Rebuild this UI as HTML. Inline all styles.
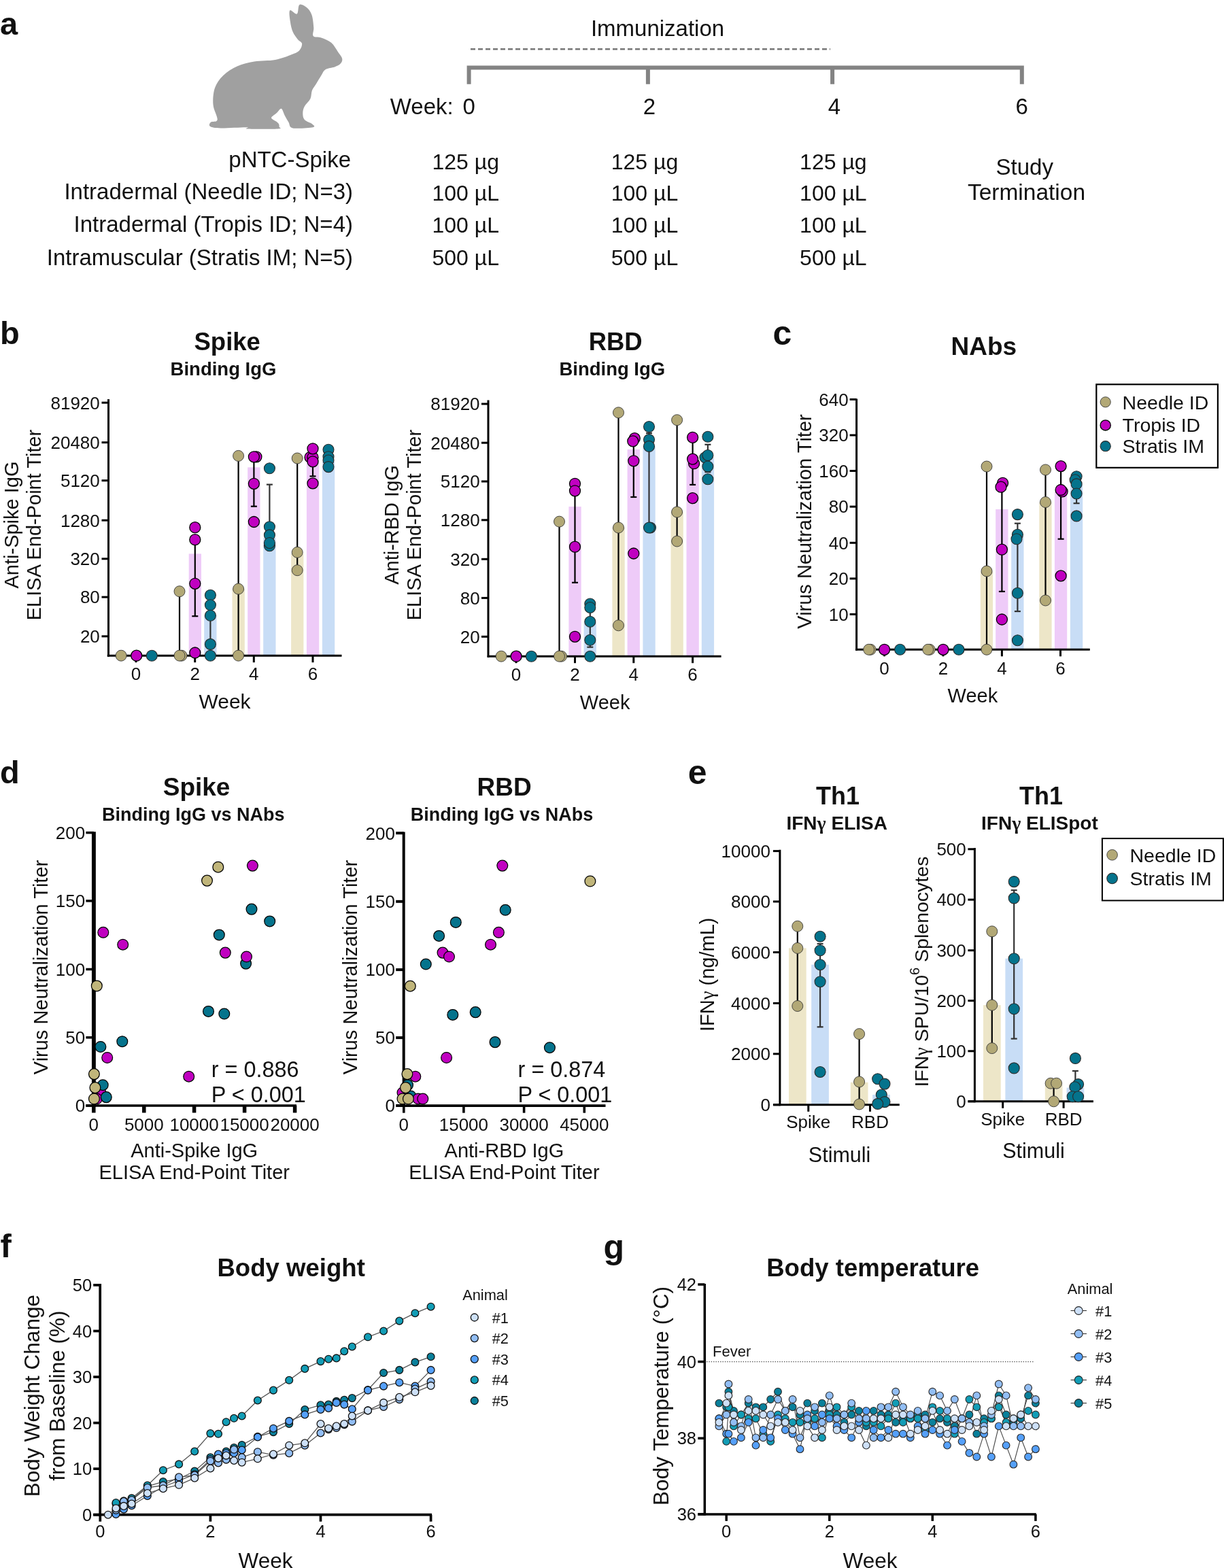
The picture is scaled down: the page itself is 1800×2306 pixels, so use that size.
<!DOCTYPE html><html><head><meta charset="utf-8"><title>Figure</title><style>html,body{margin:0;padding:0;background:#fff}svg{display:block}</style></head><body><svg width="1800" height="2306" viewBox="0 0 1800 2306" font-family='"Liberation Sans", Arial, sans-serif'>
<rect width="1800" height="2306" fill="#fff"/>
<text x="0.0" y="50.5" font-size="47" text-anchor="start" font-weight="bold" fill="#111" >a</text>
<path d="M426.2,15.4 C427.8,13.5 434.3,21.9 436.7,20.5 C439.1,19.1 438.0,8.6 440.4,7.0 C442.8,5.4 448.0,8.5 451.0,11.0 C454.0,13.5 456.8,17.1 458.5,22.0 C460.2,26.9 460.9,35.4 461.3,40.6 C461.7,45.8 458.9,50.5 460.7,53.0 C462.5,55.5 468.0,53.8 472.4,55.4 C476.8,57.0 483.1,59.3 487.2,62.8 C491.3,66.3 494.4,72.5 497.1,76.4 C499.8,80.3 502.6,83.3 503.2,86.2 C503.8,89.1 502.6,91.5 500.8,93.6 C499.0,95.6 495.8,97.1 492.1,98.5 C488.4,99.9 481.9,100.1 478.6,102.2 C475.3,104.3 474.7,107.4 472.4,110.9 C470.1,114.4 467.2,119.5 465.0,123.2 C462.8,126.9 460.3,129.3 458.9,133.0 C457.5,136.7 458.2,141.4 456.4,145.3 C454.5,149.2 449.6,152.9 447.8,156.4 C446.0,159.9 445.3,163.0 445.3,166.3 C445.3,169.6 445.5,173.4 447.8,176.1 C450.1,178.8 456.8,180.5 458.9,182.3 C460.9,184.2 464.8,186.2 460.1,187.2 C455.4,188.2 436.6,189.6 430.6,188.4 C424.7,187.2 426.4,182.9 424.4,179.8 C422.4,176.7 420.6,173.3 418.8,170.0 C417.0,166.7 415.7,160.5 413.7,159.8 C411.7,159.1 409.4,163.9 407.0,166.0 C404.6,168.1 400.5,170.7 399.4,172.2 C398.3,173.7 399.5,174.1 400.6,175.2 C401.7,176.3 404.5,177.5 406.0,178.6 C407.5,179.7 409.0,180.7 409.8,182.0 C410.6,183.3 410.8,185.3 410.6,186.5 C410.4,187.7 416.5,188.9 408.8,189.4 C401.1,189.9 372.2,190.0 364.5,189.6 C356.8,189.2 369.4,187.4 362.8,187.2 C356.2,187.0 333.5,188.6 324.6,188.4 C315.7,188.2 311.6,187.4 309.2,186.0 C306.8,184.6 308.1,181.5 309.9,179.8 C311.6,178.2 319.1,180.4 319.7,176.1 C320.3,171.8 314.1,161.8 313.5,154.0 C312.9,146.2 313.5,136.5 316.0,129.3 C318.5,122.1 322.8,116.2 328.3,110.9 C333.9,105.6 341.7,100.7 349.3,97.3 C356.9,93.9 364.7,92.0 373.9,90.5 C383.1,89.0 395.5,89.8 404.7,88.1 C413.9,86.4 423.4,82.5 429.3,80.1 C435.2,77.7 437.9,76.6 440.4,73.9 C442.9,71.2 444.5,66.7 444.1,64.0 C443.7,61.3 440.1,60.8 437.9,57.9 C435.6,55.0 432.4,51.1 430.6,46.8 C428.8,42.5 427.6,37.2 426.9,32.0 C426.2,26.8 424.6,17.3 426.2,15.4 Z" fill="#a0a0a0"/>
<text x="967.0" y="53.3" font-size="33" text-anchor="middle" fill="#111" >Immunization</text>
<line x1="692.0" y1="72.3" x2="1221.0" y2="72.3" stroke="#777" stroke-width="2.4" stroke-dasharray="7,4"/>
<path d="M689.6,123.7 V99.4 H1502.8 V123.7 M952.9,99.4 V123.7 M1224.1,99.4 V123.7" fill="none" stroke="#838383" stroke-width="6"/>
<text x="573.8" y="168.2" font-size="33" text-anchor="start" fill="#111" >Week:</text>
<text x="689.6" y="168.2" font-size="33" text-anchor="middle" fill="#111" >0</text>
<text x="955.0" y="168.2" font-size="33" text-anchor="middle" fill="#111" >2</text>
<text x="1226.9" y="168.2" font-size="33" text-anchor="middle" fill="#111" >4</text>
<text x="1502.8" y="168.2" font-size="33" text-anchor="middle" fill="#111" >6</text>
<text x="516.0" y="246.4" font-size="33" text-anchor="end" fill="#111" >pNTC-Spike</text>
<text x="519.0" y="292.6" font-size="33" text-anchor="end" fill="#111" >Intradermal (Needle ID; N=3)</text>
<text x="519.0" y="341.4" font-size="33" text-anchor="end" fill="#111" >Intradermal (Tropis ID; N=4)</text>
<text x="519.0" y="389.8" font-size="33" text-anchor="end" fill="#111" >Intramuscular (Stratis IM; N=5)</text>
<text x="635.5" y="249.0" font-size="32" text-anchor="start" fill="#111" >125 µg</text>
<text x="635.5" y="295.4" font-size="32" text-anchor="start" fill="#111" >100 µL</text>
<text x="635.5" y="341.8" font-size="32" text-anchor="start" fill="#111" >100 µL</text>
<text x="635.5" y="389.8" font-size="32" text-anchor="start" fill="#111" >500 µL</text>
<text x="898.7" y="249.0" font-size="32" text-anchor="start" fill="#111" >125 µg</text>
<text x="898.7" y="295.4" font-size="32" text-anchor="start" fill="#111" >100 µL</text>
<text x="898.7" y="341.8" font-size="32" text-anchor="start" fill="#111" >100 µL</text>
<text x="898.7" y="389.8" font-size="32" text-anchor="start" fill="#111" >500 µL</text>
<text x="1176.1" y="249.0" font-size="32" text-anchor="start" fill="#111" >125 µg</text>
<text x="1176.1" y="295.4" font-size="32" text-anchor="start" fill="#111" >100 µL</text>
<text x="1176.1" y="341.8" font-size="32" text-anchor="start" fill="#111" >100 µL</text>
<text x="1176.1" y="389.8" font-size="32" text-anchor="start" fill="#111" >500 µL</text>
<text x="1506.7" y="256.8" font-size="33" text-anchor="middle" fill="#111" >Study</text>
<text x="1509.5" y="293.5" font-size="33.5" text-anchor="middle" fill="#111" >Termination</text>
<text x="0.0" y="506.0" font-size="47" text-anchor="start" font-weight="bold" fill="#111" >b</text>
<text x="334.2" y="514.8" font-size="36.5" text-anchor="middle" font-weight="bold" fill="#111" >Spike</text>
<text x="328.5" y="552.0" font-size="27.5" text-anchor="middle" font-weight="bold" fill="#111" >Binding IgG</text>
<text transform="translate(27.4,772.0) rotate(-90)" font-size="29" text-anchor="middle" fill="#111">Anti-Spike IgG</text>
<text transform="translate(60.2,772.0) rotate(-90)" font-size="29" text-anchor="middle" fill="#111">ELISA End-Point Titer</text>
<line x1="264.0" y1="869.7" x2="264.0" y2="963.9" stroke="#000" stroke-width="2.2" />
<line x1="259.5" y1="869.7" x2="268.5" y2="869.7" stroke="#000" stroke-width="2.2" />
<line x1="259.5" y1="963.9" x2="268.5" y2="963.9" stroke="#000" stroke-width="2.2" />
<rect x="277.7" y="814.4" width="18.3" height="149.8" fill="#eecbf8" />
<line x1="286.8" y1="786.0" x2="286.8" y2="906.2" stroke="#000" stroke-width="2.2" />
<line x1="282.3" y1="906.2" x2="291.3" y2="906.2" stroke="#000" stroke-width="2.2" />
<rect x="300.2" y="905.2" width="18.3" height="59.0" fill="#c8ddf6" />
<line x1="309.4" y1="890.0" x2="309.4" y2="947.4" stroke="#333" stroke-width="2.2" />
<rect x="341.5" y="866.1" width="18.3" height="98.1" fill="#ede6c8" />
<line x1="350.6" y1="670.4" x2="350.6" y2="963.9" stroke="#000" stroke-width="2.2" />
<line x1="346.1" y1="670.4" x2="355.1" y2="670.4" stroke="#000" stroke-width="2.2" />
<line x1="346.1" y1="963.9" x2="355.1" y2="963.9" stroke="#000" stroke-width="2.2" />
<rect x="364.2" y="687.3" width="18.3" height="276.9" fill="#eecbf8" />
<line x1="373.4" y1="672.0" x2="373.4" y2="744.7" stroke="#000" stroke-width="2.2" />
<line x1="368.9" y1="672.0" x2="377.9" y2="672.0" stroke="#000" stroke-width="2.2" />
<line x1="368.9" y1="744.7" x2="377.9" y2="744.7" stroke="#000" stroke-width="2.2" />
<rect x="387.2" y="791.0" width="18.3" height="173.2" fill="#c8ddf6" />
<line x1="396.4" y1="712.6" x2="396.4" y2="791.0" stroke="#333" stroke-width="2.2" />
<line x1="391.9" y1="712.6" x2="400.9" y2="712.6" stroke="#333" stroke-width="2.2" />
<rect x="428.1" y="814.4" width="18.3" height="149.8" fill="#ede6c8" />
<line x1="437.2" y1="674.0" x2="437.2" y2="838.7" stroke="#000" stroke-width="2.2" />
<line x1="432.7" y1="674.0" x2="441.7" y2="674.0" stroke="#000" stroke-width="2.2" />
<line x1="432.7" y1="838.7" x2="441.7" y2="838.7" stroke="#000" stroke-width="2.2" />
<rect x="450.9" y="677.0" width="18.3" height="287.2" fill="#eecbf8" />
<line x1="460.0" y1="660.0" x2="460.0" y2="700.4" stroke="#000" stroke-width="2.2" />
<line x1="455.5" y1="700.4" x2="464.5" y2="700.4" stroke="#000" stroke-width="2.2" />
<rect x="473.9" y="679.0" width="18.3" height="285.2" fill="#c8ddf6" />
<line x1="159.5" y1="587.0" x2="159.5" y2="965.7" stroke="#000" stroke-width="3" />
<line x1="149.5" y1="592.2" x2="159.5" y2="592.2" stroke="#000" stroke-width="3" />
<text x="146.8" y="601.5" font-size="26" text-anchor="end" fill="#111" >81920</text>
<line x1="149.5" y1="650.7" x2="159.5" y2="650.7" stroke="#000" stroke-width="3" />
<text x="146.8" y="660.0" font-size="26" text-anchor="end" fill="#111" >20480</text>
<line x1="149.5" y1="706.7" x2="159.5" y2="706.7" stroke="#000" stroke-width="3" />
<text x="146.8" y="716.0" font-size="26" text-anchor="end" fill="#111" >5120</text>
<line x1="149.5" y1="765.2" x2="159.5" y2="765.2" stroke="#000" stroke-width="3" />
<text x="146.8" y="774.5" font-size="26" text-anchor="end" fill="#111" >1280</text>
<line x1="149.5" y1="821.8" x2="159.5" y2="821.8" stroke="#000" stroke-width="3" />
<text x="146.8" y="831.1" font-size="26" text-anchor="end" fill="#111" >320</text>
<line x1="149.5" y1="878.1" x2="159.5" y2="878.1" stroke="#000" stroke-width="3" />
<text x="146.8" y="887.4" font-size="26" text-anchor="end" fill="#111" >80</text>
<line x1="149.5" y1="935.8" x2="159.5" y2="935.8" stroke="#000" stroke-width="3" />
<text x="146.8" y="945.1" font-size="26" text-anchor="end" fill="#111" >20</text>
<line x1="157.7" y1="964.2" x2="502.5" y2="964.2" stroke="#000" stroke-width="3" />
<line x1="200.0" y1="964.2" x2="200.0" y2="974.2" stroke="#000" stroke-width="3" />
<text x="200.0" y="1000.2" font-size="26" text-anchor="middle" fill="#111" >0</text>
<line x1="286.7" y1="964.2" x2="286.7" y2="974.2" stroke="#000" stroke-width="3" />
<text x="286.7" y="1000.2" font-size="26" text-anchor="middle" fill="#111" >2</text>
<line x1="373.3" y1="964.2" x2="373.3" y2="974.2" stroke="#000" stroke-width="3" />
<text x="373.3" y="1000.2" font-size="26" text-anchor="middle" fill="#111" >4</text>
<line x1="460.0" y1="964.2" x2="460.0" y2="974.2" stroke="#000" stroke-width="3" />
<text x="460.0" y="1000.2" font-size="26" text-anchor="middle" fill="#111" >6</text>
<circle cx="178.1" cy="964.2" r="8.0" fill="#b2a876" stroke="#3a3a3a" stroke-width="0.9"/>
<circle cx="200.7" cy="964.2" r="8.0" fill="#c000c0" stroke="#000" stroke-width="1.3"/>
<circle cx="223.3" cy="964.2" r="8.0" fill="#05738c" stroke="#2a2a2a" stroke-width="1.1"/>
<circle cx="264.0" cy="869.7" r="8.0" fill="#b2a876" stroke="#3a3a3a" stroke-width="0.9"/>
<circle cx="267.0" cy="964.2" r="8.0" fill="#b2a876" stroke="#3a3a3a" stroke-width="0.9"/>
<circle cx="264.0" cy="964.2" r="8.0" fill="#b2a876" stroke="#3a3a3a" stroke-width="0.9"/>
<circle cx="286.8" cy="775.7" r="8.0" fill="#c000c0" stroke="#000" stroke-width="1.3"/>
<circle cx="286.8" cy="793.7" r="8.0" fill="#c000c0" stroke="#000" stroke-width="1.3"/>
<circle cx="286.8" cy="858.3" r="8.0" fill="#c000c0" stroke="#000" stroke-width="1.3"/>
<circle cx="286.8" cy="960.0" r="8.0" fill="#c000c0" stroke="#000" stroke-width="1.3"/>
<circle cx="309.4" cy="875.2" r="8.0" fill="#05738c" stroke="#2a2a2a" stroke-width="1.1"/>
<circle cx="309.4" cy="889.8" r="8.0" fill="#05738c" stroke="#2a2a2a" stroke-width="1.1"/>
<circle cx="309.4" cy="905.2" r="8.0" fill="#05738c" stroke="#2a2a2a" stroke-width="1.1"/>
<circle cx="309.4" cy="947.4" r="8.0" fill="#05738c" stroke="#2a2a2a" stroke-width="1.1"/>
<circle cx="309.4" cy="964.2" r="8.0" fill="#05738c" stroke="#2a2a2a" stroke-width="1.1"/>
<circle cx="350.6" cy="670.4" r="8.0" fill="#b2a876" stroke="#3a3a3a" stroke-width="0.9"/>
<circle cx="350.6" cy="866.1" r="8.0" fill="#b2a876" stroke="#3a3a3a" stroke-width="0.9"/>
<circle cx="350.6" cy="964.2" r="8.0" fill="#b2a876" stroke="#3a3a3a" stroke-width="0.9"/>
<circle cx="376.9" cy="671.8" r="8.0" fill="#c000c0" stroke="#000" stroke-width="1.3"/>
<circle cx="373.4" cy="671.8" r="8.0" fill="#c000c0" stroke="#000" stroke-width="1.3"/>
<circle cx="373.4" cy="711.3" r="8.0" fill="#c000c0" stroke="#000" stroke-width="1.3"/>
<circle cx="373.4" cy="767.5" r="8.0" fill="#c000c0" stroke="#000" stroke-width="1.3"/>
<circle cx="396.4" cy="688.7" r="8.0" fill="#05738c" stroke="#2a2a2a" stroke-width="1.1"/>
<circle cx="396.4" cy="774.7" r="8.0" fill="#05738c" stroke="#2a2a2a" stroke-width="1.1"/>
<circle cx="396.4" cy="786.9" r="8.0" fill="#05738c" stroke="#2a2a2a" stroke-width="1.1"/>
<circle cx="396.4" cy="802.8" r="8.0" fill="#05738c" stroke="#2a2a2a" stroke-width="1.1"/>
<circle cx="396.4" cy="798.5" r="8.0" fill="#05738c" stroke="#2a2a2a" stroke-width="1.1"/>
<circle cx="437.2" cy="674.0" r="8.0" fill="#b2a876" stroke="#3a3a3a" stroke-width="0.9"/>
<circle cx="437.2" cy="812.3" r="8.0" fill="#b2a876" stroke="#3a3a3a" stroke-width="0.9"/>
<circle cx="437.2" cy="838.7" r="8.0" fill="#b2a876" stroke="#3a3a3a" stroke-width="0.9"/>
<circle cx="456.0" cy="672.5" r="8.0" fill="#c000c0" stroke="#000" stroke-width="1.3"/>
<circle cx="460.0" cy="672.5" r="8.0" fill="#c000c0" stroke="#000" stroke-width="1.3"/>
<circle cx="460.0" cy="659.8" r="8.0" fill="#c000c0" stroke="#000" stroke-width="1.3"/>
<circle cx="460.0" cy="678.8" r="8.0" fill="#c000c0" stroke="#000" stroke-width="1.3"/>
<circle cx="460.0" cy="710.9" r="8.0" fill="#c000c0" stroke="#000" stroke-width="1.3"/>
<circle cx="483.0" cy="661.3" r="8.0" fill="#05738c" stroke="#2a2a2a" stroke-width="1.1"/>
<circle cx="483.0" cy="671.8" r="8.0" fill="#05738c" stroke="#2a2a2a" stroke-width="1.1"/>
<circle cx="483.0" cy="677.0" r="8.0" fill="#05738c" stroke="#2a2a2a" stroke-width="1.1"/>
<circle cx="483.0" cy="686.6" r="8.0" fill="#05738c" stroke="#2a2a2a" stroke-width="1.1"/>
<text x="330.5" y="1042.3" font-size="30" text-anchor="middle" fill="#111" >Week</text>
<text x="905.2" y="514.8" font-size="36.5" text-anchor="middle" font-weight="bold" fill="#111" >RBD</text>
<text x="900.3" y="552.0" font-size="27.5" text-anchor="middle" font-weight="bold" fill="#111" >Binding IgG</text>
<text transform="translate(586.0,772.0) rotate(-90)" font-size="29" text-anchor="middle" fill="#111">Anti-RBD IgG</text>
<text transform="translate(618.8,772.0) rotate(-90)" font-size="29" text-anchor="middle" fill="#111">ELISA End-Point Titer</text>
<line x1="822.5" y1="767.1" x2="822.5" y2="965.2" stroke="#000" stroke-width="2.2" />
<line x1="818.0" y1="767.1" x2="827.0" y2="767.1" stroke="#000" stroke-width="2.2" />
<line x1="818.0" y1="965.2" x2="827.0" y2="965.2" stroke="#000" stroke-width="2.2" />
<rect x="836.4" y="745.1" width="18.3" height="220.1" fill="#eecbf8" />
<line x1="845.5" y1="716.0" x2="845.5" y2="856.8" stroke="#000" stroke-width="2.2" />
<line x1="841.0" y1="856.8" x2="850.0" y2="856.8" stroke="#000" stroke-width="2.2" />
<rect x="858.6" y="915.0" width="18.3" height="50.2" fill="#c8ddf6" />
<line x1="867.8" y1="890.0" x2="867.8" y2="951.7" stroke="#333" stroke-width="2.2" />
<line x1="863.3" y1="951.7" x2="872.3" y2="951.7" stroke="#333" stroke-width="2.2" />
<rect x="900.4" y="776.0" width="18.3" height="189.2" fill="#ede6c8" />
<line x1="909.5" y1="606.8" x2="909.5" y2="919.8" stroke="#000" stroke-width="2.2" />
<line x1="905.0" y1="606.8" x2="914.0" y2="606.8" stroke="#000" stroke-width="2.2" />
<line x1="905.0" y1="919.8" x2="914.0" y2="919.8" stroke="#000" stroke-width="2.2" />
<rect x="922.6" y="661.0" width="18.3" height="304.2" fill="#eecbf8" />
<line x1="931.8" y1="645.0" x2="931.8" y2="731.0" stroke="#000" stroke-width="2.2" />
<line x1="927.3" y1="731.0" x2="936.3" y2="731.0" stroke="#000" stroke-width="2.2" />
<rect x="945.4" y="656.4" width="18.3" height="308.8" fill="#c8ddf6" />
<line x1="954.5" y1="637.0" x2="954.5" y2="776.0" stroke="#333" stroke-width="2.2" />
<line x1="950.0" y1="637.0" x2="959.0" y2="637.0" stroke="#333" stroke-width="2.2" />
<rect x="986.5" y="753.0" width="18.3" height="212.2" fill="#ede6c8" />
<line x1="995.6" y1="617.7" x2="995.6" y2="796.0" stroke="#000" stroke-width="2.2" />
<line x1="991.1" y1="617.7" x2="1000.1" y2="617.7" stroke="#000" stroke-width="2.2" />
<line x1="991.1" y1="796.0" x2="1000.1" y2="796.0" stroke="#000" stroke-width="2.2" />
<rect x="1009.5" y="678.4" width="18.3" height="286.8" fill="#eecbf8" />
<line x1="1018.6" y1="650.0" x2="1018.6" y2="712.9" stroke="#000" stroke-width="2.2" />
<line x1="1014.1" y1="712.9" x2="1023.1" y2="712.9" stroke="#000" stroke-width="2.2" />
<rect x="1031.8" y="673.5" width="18.3" height="291.7" fill="#c8ddf6" />
<line x1="1040.9" y1="653.8" x2="1040.9" y2="694.2" stroke="#333" stroke-width="2.2" />
<line x1="1036.4" y1="653.8" x2="1045.4" y2="653.8" stroke="#333" stroke-width="2.2" />
<line x1="1036.4" y1="694.2" x2="1045.4" y2="694.2" stroke="#333" stroke-width="2.2" />
<line x1="718.0" y1="588.5" x2="718.0" y2="966.7" stroke="#000" stroke-width="3" />
<line x1="708.0" y1="594.0" x2="718.0" y2="594.0" stroke="#000" stroke-width="3" />
<text x="705.6" y="603.3" font-size="26" text-anchor="end" fill="#111" >81920</text>
<line x1="708.0" y1="651.2" x2="718.0" y2="651.2" stroke="#000" stroke-width="3" />
<text x="705.6" y="660.5" font-size="26" text-anchor="end" fill="#111" >20480</text>
<line x1="708.0" y1="708.0" x2="718.0" y2="708.0" stroke="#000" stroke-width="3" />
<text x="705.6" y="717.3" font-size="26" text-anchor="end" fill="#111" >5120</text>
<line x1="708.0" y1="764.8" x2="718.0" y2="764.8" stroke="#000" stroke-width="3" />
<text x="705.6" y="774.1" font-size="26" text-anchor="end" fill="#111" >1280</text>
<line x1="708.0" y1="822.3" x2="718.0" y2="822.3" stroke="#000" stroke-width="3" />
<text x="705.6" y="831.6" font-size="26" text-anchor="end" fill="#111" >320</text>
<line x1="708.0" y1="879.4" x2="718.0" y2="879.4" stroke="#000" stroke-width="3" />
<text x="705.6" y="888.7" font-size="26" text-anchor="end" fill="#111" >80</text>
<line x1="708.0" y1="936.3" x2="718.0" y2="936.3" stroke="#000" stroke-width="3" />
<text x="705.6" y="945.6" font-size="26" text-anchor="end" fill="#111" >20</text>
<line x1="716.7" y1="965.2" x2="1060.6" y2="965.2" stroke="#000" stroke-width="3" />
<line x1="759.0" y1="965.2" x2="759.0" y2="975.2" stroke="#000" stroke-width="3" />
<text x="759.0" y="1001.3" font-size="26" text-anchor="middle" fill="#111" >0</text>
<line x1="845.5" y1="965.2" x2="845.5" y2="975.2" stroke="#000" stroke-width="3" />
<text x="845.5" y="1001.3" font-size="26" text-anchor="middle" fill="#111" >2</text>
<line x1="931.8" y1="965.2" x2="931.8" y2="975.2" stroke="#000" stroke-width="3" />
<text x="931.8" y="1001.3" font-size="26" text-anchor="middle" fill="#111" >4</text>
<line x1="1018.6" y1="965.2" x2="1018.6" y2="975.2" stroke="#000" stroke-width="3" />
<text x="1018.6" y="1001.3" font-size="26" text-anchor="middle" fill="#111" >6</text>
<circle cx="737.1" cy="965.2" r="8.0" fill="#b2a876" stroke="#3a3a3a" stroke-width="0.9"/>
<circle cx="759.1" cy="965.2" r="8.0" fill="#c000c0" stroke="#000" stroke-width="1.3"/>
<circle cx="781.4" cy="965.2" r="8.0" fill="#05738c" stroke="#2a2a2a" stroke-width="1.1"/>
<circle cx="822.5" cy="767.1" r="8.0" fill="#b2a876" stroke="#3a3a3a" stroke-width="0.9"/>
<circle cx="825.5" cy="965.2" r="8.0" fill="#b2a876" stroke="#3a3a3a" stroke-width="0.9"/>
<circle cx="822.5" cy="965.2" r="8.0" fill="#b2a876" stroke="#3a3a3a" stroke-width="0.9"/>
<circle cx="845.5" cy="711.3" r="8.0" fill="#c000c0" stroke="#000" stroke-width="1.3"/>
<circle cx="845.5" cy="721.8" r="8.0" fill="#c000c0" stroke="#000" stroke-width="1.3"/>
<circle cx="845.5" cy="804.2" r="8.0" fill="#c000c0" stroke="#000" stroke-width="1.3"/>
<circle cx="845.5" cy="936.3" r="8.0" fill="#c000c0" stroke="#000" stroke-width="1.3"/>
<circle cx="867.8" cy="888.0" r="8.0" fill="#05738c" stroke="#2a2a2a" stroke-width="1.1"/>
<circle cx="867.8" cy="893.5" r="8.0" fill="#05738c" stroke="#2a2a2a" stroke-width="1.1"/>
<circle cx="867.8" cy="914.2" r="8.0" fill="#05738c" stroke="#2a2a2a" stroke-width="1.1"/>
<circle cx="867.8" cy="941.2" r="8.0" fill="#05738c" stroke="#2a2a2a" stroke-width="1.1"/>
<circle cx="867.8" cy="965.2" r="8.0" fill="#05738c" stroke="#2a2a2a" stroke-width="1.1"/>
<circle cx="909.5" cy="606.8" r="8.0" fill="#b2a876" stroke="#3a3a3a" stroke-width="0.9"/>
<circle cx="909.5" cy="776.0" r="8.0" fill="#b2a876" stroke="#3a3a3a" stroke-width="0.9"/>
<circle cx="909.5" cy="919.8" r="8.0" fill="#b2a876" stroke="#3a3a3a" stroke-width="0.9"/>
<circle cx="933.3" cy="644.6" r="8.0" fill="#c000c0" stroke="#000" stroke-width="1.3"/>
<circle cx="930.8" cy="648.9" r="8.0" fill="#c000c0" stroke="#000" stroke-width="1.3"/>
<circle cx="931.8" cy="677.8" r="8.0" fill="#c000c0" stroke="#000" stroke-width="1.3"/>
<circle cx="931.8" cy="814.0" r="8.0" fill="#c000c0" stroke="#000" stroke-width="1.3"/>
<circle cx="954.5" cy="627.5" r="8.0" fill="#05738c" stroke="#2a2a2a" stroke-width="1.1"/>
<circle cx="954.5" cy="646.6" r="8.0" fill="#05738c" stroke="#2a2a2a" stroke-width="1.1"/>
<circle cx="954.5" cy="656.4" r="8.0" fill="#05738c" stroke="#2a2a2a" stroke-width="1.1"/>
<circle cx="956.5" cy="776.0" r="8.0" fill="#05738c" stroke="#2a2a2a" stroke-width="1.1"/>
<circle cx="954.5" cy="776.0" r="8.0" fill="#05738c" stroke="#2a2a2a" stroke-width="1.1"/>
<circle cx="995.6" cy="617.7" r="8.0" fill="#b2a876" stroke="#3a3a3a" stroke-width="0.9"/>
<circle cx="995.6" cy="753.0" r="8.0" fill="#b2a876" stroke="#3a3a3a" stroke-width="0.9"/>
<circle cx="995.6" cy="796.0" r="8.0" fill="#b2a876" stroke="#3a3a3a" stroke-width="0.9"/>
<circle cx="1018.6" cy="643.3" r="8.0" fill="#c000c0" stroke="#000" stroke-width="1.3"/>
<circle cx="1020.6" cy="681.7" r="8.0" fill="#c000c0" stroke="#000" stroke-width="1.3"/>
<circle cx="1018.6" cy="675.1" r="8.0" fill="#c000c0" stroke="#000" stroke-width="1.3"/>
<circle cx="1018.6" cy="732.6" r="8.0" fill="#c000c0" stroke="#000" stroke-width="1.3"/>
<circle cx="1040.9" cy="642.3" r="8.0" fill="#05738c" stroke="#2a2a2a" stroke-width="1.1"/>
<circle cx="1036.9" cy="672.8" r="8.0" fill="#05738c" stroke="#2a2a2a" stroke-width="1.1"/>
<circle cx="1040.9" cy="669.5" r="8.0" fill="#05738c" stroke="#2a2a2a" stroke-width="1.1"/>
<circle cx="1040.9" cy="686.0" r="8.0" fill="#05738c" stroke="#2a2a2a" stroke-width="1.1"/>
<circle cx="1040.9" cy="704.7" r="8.0" fill="#05738c" stroke="#2a2a2a" stroke-width="1.1"/>
<text x="889.6" y="1043.3" font-size="29" text-anchor="middle" fill="#111" >Week</text>
<text x="1136.4" y="507.3" font-size="50" text-anchor="start" font-weight="bold" fill="#111" >c</text>
<text x="1446.8" y="521.7" font-size="37" text-anchor="middle" font-weight="bold" fill="#111" >NAbs</text>
<text transform="translate(1192.8,767.0) rotate(-90)" font-size="29" text-anchor="middle" fill="#111">Virus Neutralization Titer</text>
<rect x="1441.8" y="841.0" width="18.3" height="114.3" fill="#ede6c8" />
<line x1="1451.0" y1="686.0" x2="1451.0" y2="955.3" stroke="#000" stroke-width="2.2" />
<line x1="1446.5" y1="686.0" x2="1455.5" y2="686.0" stroke="#000" stroke-width="2.2" />
<line x1="1446.5" y1="955.3" x2="1455.5" y2="955.3" stroke="#000" stroke-width="2.2" />
<rect x="1464.2" y="749.0" width="18.3" height="206.3" fill="#eecbf8" />
<line x1="1473.4" y1="716.0" x2="1473.4" y2="869.9" stroke="#000" stroke-width="2.2" />
<line x1="1468.9" y1="869.9" x2="1477.9" y2="869.9" stroke="#000" stroke-width="2.2" />
<rect x="1487.2" y="788.4" width="18.3" height="166.9" fill="#c8ddf6" />
<line x1="1496.4" y1="769.7" x2="1496.4" y2="899.1" stroke="#333" stroke-width="2.2" />
<line x1="1491.9" y1="769.7" x2="1500.9" y2="769.7" stroke="#333" stroke-width="2.2" />
<line x1="1491.9" y1="899.1" x2="1500.9" y2="899.1" stroke="#333" stroke-width="2.2" />
<rect x="1528.3" y="738.5" width="18.3" height="216.8" fill="#ede6c8" />
<line x1="1537.5" y1="690.9" x2="1537.5" y2="883.0" stroke="#000" stroke-width="2.2" />
<line x1="1533.0" y1="690.9" x2="1542.0" y2="690.9" stroke="#000" stroke-width="2.2" />
<line x1="1533.0" y1="883.0" x2="1542.0" y2="883.0" stroke="#000" stroke-width="2.2" />
<rect x="1550.9" y="722.8" width="18.3" height="232.5" fill="#eecbf8" />
<line x1="1560.1" y1="685.6" x2="1560.1" y2="792.7" stroke="#000" stroke-width="2.2" />
<line x1="1555.6" y1="792.7" x2="1564.6" y2="792.7" stroke="#000" stroke-width="2.2" />
<rect x="1573.9" y="713.0" width="18.3" height="242.3" fill="#c8ddf6" />
<line x1="1583.1" y1="713.0" x2="1583.1" y2="740.2" stroke="#333" stroke-width="2.2" />
<line x1="1578.6" y1="740.2" x2="1587.6" y2="740.2" stroke="#333" stroke-width="2.2" />
<line x1="1259.6" y1="586.5" x2="1259.6" y2="956.8" stroke="#000" stroke-width="3" />
<line x1="1249.6" y1="587.4" x2="1259.6" y2="587.4" stroke="#000" stroke-width="3" />
<text x="1247.7" y="596.7" font-size="26" text-anchor="end" fill="#111" >640</text>
<line x1="1249.6" y1="640.0" x2="1259.6" y2="640.0" stroke="#000" stroke-width="3" />
<text x="1247.7" y="649.3" font-size="26" text-anchor="end" fill="#111" >320</text>
<line x1="1249.6" y1="692.5" x2="1259.6" y2="692.5" stroke="#000" stroke-width="3" />
<text x="1247.7" y="701.8" font-size="26" text-anchor="end" fill="#111" >160</text>
<line x1="1249.6" y1="745.1" x2="1259.6" y2="745.1" stroke="#000" stroke-width="3" />
<text x="1247.7" y="754.4" font-size="26" text-anchor="end" fill="#111" >80</text>
<line x1="1249.6" y1="798.3" x2="1259.6" y2="798.3" stroke="#000" stroke-width="3" />
<text x="1247.7" y="807.6" font-size="26" text-anchor="end" fill="#111" >40</text>
<line x1="1249.6" y1="850.9" x2="1259.6" y2="850.9" stroke="#000" stroke-width="3" />
<text x="1247.7" y="860.2" font-size="26" text-anchor="end" fill="#111" >20</text>
<line x1="1249.6" y1="903.4" x2="1259.6" y2="903.4" stroke="#000" stroke-width="3" />
<text x="1247.7" y="912.7" font-size="26" text-anchor="end" fill="#111" >10</text>
<line x1="1258.0" y1="955.3" x2="1602.8" y2="955.3" stroke="#000" stroke-width="3" />
<line x1="1300.6" y1="955.3" x2="1300.6" y2="965.3" stroke="#000" stroke-width="3" />
<text x="1300.6" y="991.5" font-size="26" text-anchor="middle" fill="#111" >0</text>
<line x1="1387.0" y1="955.3" x2="1387.0" y2="965.3" stroke="#000" stroke-width="3" />
<text x="1387.0" y="991.5" font-size="26" text-anchor="middle" fill="#111" >2</text>
<line x1="1473.4" y1="955.3" x2="1473.4" y2="965.3" stroke="#000" stroke-width="3" />
<text x="1473.4" y="991.5" font-size="26" text-anchor="middle" fill="#111" >4</text>
<line x1="1559.5" y1="955.3" x2="1559.5" y2="965.3" stroke="#000" stroke-width="3" />
<text x="1559.5" y="991.5" font-size="26" text-anchor="middle" fill="#111" >6</text>
<circle cx="1280.2" cy="955.3" r="8.0" fill="#b2a876" stroke="#3a3a3a" stroke-width="0.9"/>
<circle cx="1277.7" cy="955.3" r="8.0" fill="#b2a876" stroke="#3a3a3a" stroke-width="0.9"/>
<circle cx="1300.6" cy="955.3" r="8.0" fill="#c000c0" stroke="#000" stroke-width="1.3"/>
<circle cx="1323.6" cy="955.3" r="8.0" fill="#05738c" stroke="#2a2a2a" stroke-width="1.1"/>
<circle cx="1367.2" cy="955.3" r="8.0" fill="#b2a876" stroke="#3a3a3a" stroke-width="0.9"/>
<circle cx="1364.7" cy="955.3" r="8.0" fill="#b2a876" stroke="#3a3a3a" stroke-width="0.9"/>
<circle cx="1387.0" cy="955.3" r="8.0" fill="#c000c0" stroke="#000" stroke-width="1.3"/>
<circle cx="1410.0" cy="955.3" r="8.0" fill="#05738c" stroke="#2a2a2a" stroke-width="1.1"/>
<circle cx="1451.0" cy="686.0" r="8.0" fill="#b2a876" stroke="#3a3a3a" stroke-width="0.9"/>
<circle cx="1451.0" cy="840.0" r="8.0" fill="#b2a876" stroke="#3a3a3a" stroke-width="0.9"/>
<circle cx="1451.0" cy="955.3" r="8.0" fill="#b2a876" stroke="#3a3a3a" stroke-width="0.9"/>
<circle cx="1474.6" cy="710.3" r="8.0" fill="#c000c0" stroke="#000" stroke-width="1.3"/>
<circle cx="1472.0" cy="716.2" r="8.0" fill="#c000c0" stroke="#000" stroke-width="1.3"/>
<circle cx="1473.4" cy="808.2" r="8.0" fill="#c000c0" stroke="#000" stroke-width="1.3"/>
<circle cx="1473.4" cy="911.0" r="8.0" fill="#c000c0" stroke="#000" stroke-width="1.3"/>
<circle cx="1496.4" cy="756.6" r="8.0" fill="#05738c" stroke="#2a2a2a" stroke-width="1.1"/>
<circle cx="1496.4" cy="786.2" r="8.0" fill="#05738c" stroke="#2a2a2a" stroke-width="1.1"/>
<circle cx="1495.0" cy="792.7" r="8.0" fill="#05738c" stroke="#2a2a2a" stroke-width="1.1"/>
<circle cx="1496.4" cy="872.2" r="8.0" fill="#05738c" stroke="#2a2a2a" stroke-width="1.1"/>
<circle cx="1496.4" cy="941.8" r="8.0" fill="#05738c" stroke="#2a2a2a" stroke-width="1.1"/>
<circle cx="1537.5" cy="690.9" r="8.0" fill="#b2a876" stroke="#3a3a3a" stroke-width="0.9"/>
<circle cx="1537.5" cy="738.5" r="8.0" fill="#b2a876" stroke="#3a3a3a" stroke-width="0.9"/>
<circle cx="1537.5" cy="883.0" r="8.0" fill="#b2a876" stroke="#3a3a3a" stroke-width="0.9"/>
<circle cx="1560.1" cy="685.6" r="8.0" fill="#c000c0" stroke="#000" stroke-width="1.3"/>
<circle cx="1562.1" cy="722.8" r="8.0" fill="#c000c0" stroke="#000" stroke-width="1.3"/>
<circle cx="1560.1" cy="720.5" r="8.0" fill="#c000c0" stroke="#000" stroke-width="1.3"/>
<circle cx="1560.1" cy="846.9" r="8.0" fill="#c000c0" stroke="#000" stroke-width="1.3"/>
<circle cx="1583.1" cy="700.8" r="8.0" fill="#05738c" stroke="#2a2a2a" stroke-width="1.1"/>
<circle cx="1581.1" cy="705.7" r="8.0" fill="#05738c" stroke="#2a2a2a" stroke-width="1.1"/>
<circle cx="1583.1" cy="711.9" r="8.0" fill="#05738c" stroke="#2a2a2a" stroke-width="1.1"/>
<circle cx="1583.1" cy="726.0" r="8.0" fill="#05738c" stroke="#2a2a2a" stroke-width="1.1"/>
<circle cx="1583.1" cy="758.9" r="8.0" fill="#05738c" stroke="#2a2a2a" stroke-width="1.1"/>
<text x="1430.4" y="1032.5" font-size="29" text-anchor="middle" fill="#111" >Week</text>
<rect x="1612.3" y="565.3" width="178.6" height="122.5" fill="none" stroke="#000" stroke-width="2.2"/>
<circle cx="1625.7" cy="591.3" r="7.6" fill="#b2a876" stroke="#3a3a3a" stroke-width="0.9"/>
<text x="1650.6" y="601.7" font-size="28.5" text-anchor="start" fill="#111" >Needle ID</text>
<circle cx="1625.7" cy="625.4" r="7.6" fill="#c000c0" stroke="#000" stroke-width="1.3"/>
<text x="1650.6" y="635.2" font-size="28.5" text-anchor="start" fill="#111" >Tropis ID</text>
<circle cx="1625.7" cy="656.2" r="7.6" fill="#05738c" stroke="#2a2a2a" stroke-width="1.1"/>
<text x="1650.6" y="665.8" font-size="28.5" text-anchor="start" fill="#111" >Stratis IM</text>
<text x="0.0" y="1151.5" font-size="47" text-anchor="start" font-weight="bold" fill="#111" >d</text>
<text x="289.1" y="1169.5" font-size="37" text-anchor="middle" font-weight="bold" fill="#111" >Spike</text>
<text x="284.2" y="1206.7" font-size="27" text-anchor="middle" font-weight="bold" fill="#111" >Binding IgG vs NAbs</text>
<text transform="translate(69.5,1422.5) rotate(-90)" font-size="29" text-anchor="middle" fill="#111">Virus Neutralization Titer</text>
<line x1="137.9" y1="1223.2" x2="137.9" y2="1627.8" stroke="#000" stroke-width="5.9" />
<line x1="126.3" y1="1626.0" x2="436.0" y2="1626.0" stroke="#000" stroke-width="3.5" />
<line x1="126.4" y1="1224.6" x2="137.9" y2="1224.6" stroke="#000" stroke-width="3.5" />
<text x="125.2" y="1233.9" font-size="26" text-anchor="end" fill="#111" >200</text>
<line x1="126.4" y1="1324.9" x2="137.9" y2="1324.9" stroke="#000" stroke-width="3.5" />
<text x="125.2" y="1334.2" font-size="26" text-anchor="end" fill="#111" >150</text>
<line x1="126.4" y1="1425.5" x2="137.9" y2="1425.5" stroke="#000" stroke-width="3.5" />
<text x="125.2" y="1434.8" font-size="26" text-anchor="end" fill="#111" >100</text>
<line x1="126.4" y1="1525.8" x2="137.9" y2="1525.8" stroke="#000" stroke-width="3.5" />
<text x="125.2" y="1535.1" font-size="26" text-anchor="end" fill="#111" >50</text>
<line x1="126.4" y1="1626.0" x2="137.9" y2="1626.0" stroke="#000" stroke-width="3.5" />
<text x="125.2" y="1635.3" font-size="26" text-anchor="end" fill="#111" >0</text>
<line x1="137.8" y1="1626.0" x2="137.8" y2="1636.5" stroke="#000" stroke-width="5.5" />
<text x="137.8" y="1662.5" font-size="26" text-anchor="middle" fill="#111" >0</text>
<line x1="211.8" y1="1626.0" x2="211.8" y2="1636.5" stroke="#000" stroke-width="5.5" />
<text x="211.8" y="1662.5" font-size="26" text-anchor="middle" fill="#111" >5000</text>
<line x1="285.6" y1="1626.0" x2="285.6" y2="1636.5" stroke="#000" stroke-width="5.5" />
<text x="285.6" y="1662.5" font-size="26" text-anchor="middle" fill="#111" >10000</text>
<line x1="359.6" y1="1626.0" x2="359.6" y2="1636.5" stroke="#000" stroke-width="5.5" />
<text x="359.6" y="1662.5" font-size="26" text-anchor="middle" fill="#111" >15000</text>
<line x1="433.6" y1="1626.0" x2="433.6" y2="1636.5" stroke="#000" stroke-width="5.5" />
<text x="433.6" y="1662.5" font-size="26" text-anchor="middle" fill="#111" >20000</text>
<circle cx="147.9" cy="1607.0" r="7.9" fill="#c000c0" stroke="#000" stroke-width="1.25"/>
<circle cx="142.3" cy="1616.0" r="7.9" fill="#c000c0" stroke="#000" stroke-width="1.25"/>
<circle cx="370.0" cy="1337.1" r="7.9" fill="#05738c" stroke="#000" stroke-width="1.25"/>
<circle cx="396.7" cy="1354.9" r="7.9" fill="#05738c" stroke="#000" stroke-width="1.25"/>
<circle cx="322.3" cy="1374.9" r="7.9" fill="#05738c" stroke="#000" stroke-width="1.25"/>
<circle cx="361.6" cy="1417.1" r="7.9" fill="#05738c" stroke="#000" stroke-width="1.25"/>
<circle cx="306.5" cy="1487.4" r="7.9" fill="#05738c" stroke="#000" stroke-width="1.25"/>
<circle cx="329.8" cy="1491.0" r="7.9" fill="#05738c" stroke="#000" stroke-width="1.25"/>
<circle cx="179.8" cy="1531.7" r="7.9" fill="#05738c" stroke="#000" stroke-width="1.25"/>
<circle cx="147.9" cy="1539.5" r="7.9" fill="#05738c" stroke="#000" stroke-width="1.25"/>
<circle cx="151.2" cy="1595.7" r="7.9" fill="#05738c" stroke="#000" stroke-width="1.25"/>
<circle cx="156.3" cy="1613.6" r="7.9" fill="#05738c" stroke="#000" stroke-width="1.25"/>
<circle cx="371.4" cy="1273.1" r="7.9" fill="#c000c0" stroke="#000" stroke-width="1.25"/>
<circle cx="151.8" cy="1371.3" r="7.9" fill="#c000c0" stroke="#000" stroke-width="1.25"/>
<circle cx="180.7" cy="1389.2" r="7.9" fill="#c000c0" stroke="#000" stroke-width="1.25"/>
<circle cx="331.3" cy="1401.1" r="7.9" fill="#c000c0" stroke="#000" stroke-width="1.25"/>
<circle cx="362.5" cy="1407.0" r="7.9" fill="#c000c0" stroke="#000" stroke-width="1.25"/>
<circle cx="157.7" cy="1555.5" r="7.9" fill="#c000c0" stroke="#000" stroke-width="1.25"/>
<circle cx="277.7" cy="1583.2" r="7.9" fill="#c000c0" stroke="#000" stroke-width="1.25"/>
<circle cx="320.8" cy="1275.2" r="7.9" fill="#c0b57a" stroke="#000" stroke-width="1.25"/>
<circle cx="304.5" cy="1295.1" r="7.9" fill="#c0b57a" stroke="#000" stroke-width="1.25"/>
<circle cx="142.3" cy="1449.9" r="7.9" fill="#c0b57a" stroke="#000" stroke-width="1.25"/>
<circle cx="138.4" cy="1579.6" r="7.9" fill="#c0b57a" stroke="#000" stroke-width="1.25"/>
<circle cx="139.9" cy="1599.6" r="7.9" fill="#c0b57a" stroke="#000" stroke-width="1.25"/>
<circle cx="138.4" cy="1616.0" r="7.9" fill="#c0b57a" stroke="#000" stroke-width="1.25"/>
<text x="285.7" y="1702.3" font-size="29" text-anchor="middle" fill="#111" >Anti-Spike IgG</text>
<text x="285.7" y="1733.5" font-size="29" text-anchor="middle" fill="#111" >ELISA End-Point Titer</text>
<text x="310.8" y="1583.9" font-size="32.4" text-anchor="start" fill="#111" >r = 0.886</text>
<text x="310.8" y="1620.8" font-size="32.4" text-anchor="start" fill="#111" >P &lt; 0.001</text>
<text x="741.6" y="1169.5" font-size="37" text-anchor="middle" font-weight="bold" fill="#111" >RBD</text>
<text x="737.9" y="1206.7" font-size="27" text-anchor="middle" font-weight="bold" fill="#111" >Binding IgG vs NAbs</text>
<text transform="translate(524.6,1422.5) rotate(-90)" font-size="29" text-anchor="middle" fill="#111">Virus Neutralization Titer</text>
<line x1="593.7" y1="1223.5" x2="593.7" y2="1628.1" stroke="#000" stroke-width="4.0" />
<line x1="583.0" y1="1626.2" x2="890.5" y2="1626.2" stroke="#000" stroke-width="3.8" />
<line x1="582.2" y1="1225.2" x2="593.7" y2="1225.2" stroke="#000" stroke-width="4.0" />
<text x="581.0" y="1234.5" font-size="26" text-anchor="end" fill="#111" >200</text>
<line x1="582.2" y1="1325.8" x2="593.7" y2="1325.8" stroke="#000" stroke-width="4.0" />
<text x="581.0" y="1335.1" font-size="26" text-anchor="end" fill="#111" >150</text>
<line x1="582.2" y1="1426.1" x2="593.7" y2="1426.1" stroke="#000" stroke-width="4.0" />
<text x="581.0" y="1435.4" font-size="26" text-anchor="end" fill="#111" >100</text>
<line x1="582.2" y1="1526.1" x2="593.7" y2="1526.1" stroke="#000" stroke-width="4.0" />
<text x="581.0" y="1535.4" font-size="26" text-anchor="end" fill="#111" >50</text>
<line x1="582.2" y1="1626.0" x2="593.7" y2="1626.0" stroke="#000" stroke-width="4.0" />
<text x="581.0" y="1635.3" font-size="26" text-anchor="end" fill="#111" >0</text>
<line x1="593.8" y1="1626.2" x2="593.8" y2="1636.7" stroke="#000" stroke-width="3.6" />
<text x="593.8" y="1662.5" font-size="26" text-anchor="middle" fill="#111" >0</text>
<line x1="681.9" y1="1626.2" x2="681.9" y2="1636.7" stroke="#000" stroke-width="3.6" />
<text x="681.9" y="1662.5" font-size="26" text-anchor="middle" fill="#111" >15000</text>
<line x1="770.6" y1="1626.2" x2="770.6" y2="1636.7" stroke="#000" stroke-width="3.6" />
<text x="770.6" y="1662.5" font-size="26" text-anchor="middle" fill="#111" >30000</text>
<line x1="859.3" y1="1626.2" x2="859.3" y2="1636.7" stroke="#000" stroke-width="3.6" />
<text x="859.3" y="1662.5" font-size="26" text-anchor="middle" fill="#111" >45000</text>
<circle cx="743.2" cy="1338.3" r="7.9" fill="#05738c" stroke="#000" stroke-width="1.25"/>
<circle cx="670.3" cy="1356.4" r="7.9" fill="#05738c" stroke="#000" stroke-width="1.25"/>
<circle cx="645.6" cy="1376.4" r="7.9" fill="#05738c" stroke="#000" stroke-width="1.25"/>
<circle cx="626.3" cy="1418.0" r="7.9" fill="#05738c" stroke="#000" stroke-width="1.25"/>
<circle cx="699.2" cy="1488.6" r="7.9" fill="#05738c" stroke="#000" stroke-width="1.25"/>
<circle cx="665.8" cy="1492.4" r="7.9" fill="#05738c" stroke="#000" stroke-width="1.25"/>
<circle cx="728.0" cy="1532.6" r="7.9" fill="#05738c" stroke="#000" stroke-width="1.25"/>
<circle cx="808.4" cy="1540.7" r="7.9" fill="#05738c" stroke="#000" stroke-width="1.25"/>
<circle cx="599.5" cy="1595.7" r="7.9" fill="#05738c" stroke="#000" stroke-width="1.25"/>
<circle cx="604.0" cy="1612.0" r="7.9" fill="#05738c" stroke="#000" stroke-width="1.25"/>
<circle cx="738.8" cy="1273.1" r="7.9" fill="#c000c0" stroke="#000" stroke-width="1.25"/>
<circle cx="733.4" cy="1371.3" r="7.9" fill="#c000c0" stroke="#000" stroke-width="1.25"/>
<circle cx="721.5" cy="1389.2" r="7.9" fill="#c000c0" stroke="#000" stroke-width="1.25"/>
<circle cx="651.0" cy="1401.1" r="7.9" fill="#c000c0" stroke="#000" stroke-width="1.25"/>
<circle cx="660.5" cy="1407.0" r="7.9" fill="#c000c0" stroke="#000" stroke-width="1.25"/>
<circle cx="656.6" cy="1555.5" r="7.9" fill="#c000c0" stroke="#000" stroke-width="1.25"/>
<circle cx="610.8" cy="1583.2" r="7.9" fill="#c000c0" stroke="#000" stroke-width="1.25"/>
<circle cx="592.0" cy="1607.0" r="7.9" fill="#c000c0" stroke="#000" stroke-width="1.25"/>
<circle cx="614.9" cy="1616.0" r="7.9" fill="#c000c0" stroke="#000" stroke-width="1.25"/>
<circle cx="621.8" cy="1616.0" r="7.9" fill="#c000c0" stroke="#000" stroke-width="1.25"/>
<circle cx="867.9" cy="1296.0" r="7.9" fill="#c0b57a" stroke="#000" stroke-width="1.25"/>
<circle cx="603.3" cy="1450.2" r="7.9" fill="#c0b57a" stroke="#000" stroke-width="1.25"/>
<circle cx="598.9" cy="1579.6" r="7.9" fill="#c0b57a" stroke="#000" stroke-width="1.25"/>
<circle cx="596.5" cy="1599.6" r="7.9" fill="#c0b57a" stroke="#000" stroke-width="1.25"/>
<circle cx="592.0" cy="1616.0" r="7.9" fill="#c0b57a" stroke="#000" stroke-width="1.25"/>
<circle cx="600.4" cy="1616.0" r="7.9" fill="#c0b57a" stroke="#000" stroke-width="1.25"/>
<text x="741.4" y="1702.3" font-size="29" text-anchor="middle" fill="#111" >Anti-RBD IgG</text>
<text x="741.4" y="1733.5" font-size="29" text-anchor="middle" fill="#111" >ELISA End-Point Titer</text>
<text x="761.6" y="1583.9" font-size="32.4" text-anchor="start" fill="#111" >r = 0.874</text>
<text x="761.4" y="1620.8" font-size="32.4" text-anchor="start" fill="#111" >P &lt; 0.001</text>
<text x="1011.7" y="1152.6" font-size="50" text-anchor="start" font-weight="bold" fill="#111" >e</text>
<text x="1232.0" y="1183.2" font-size="36" text-anchor="middle" font-weight="bold" fill="#111" >Th1</text>
<text x="1230.7" y="1220.3" font-size="28" text-anchor="middle" font-weight="bold" fill="#111" >IFN<tspan font-family="Liberation Serif">γ</tspan> ELISA</text>
<rect x="1160.0" y="1394.4" width="25.7" height="230.4" fill="#ede6c8" />
<line x1="1172.8" y1="1362.2" x2="1172.8" y2="1479.5" stroke="#000" stroke-width="2.2" />
<line x1="1168.3" y1="1362.2" x2="1177.3" y2="1362.2" stroke="#000" stroke-width="2.2" />
<line x1="1168.3" y1="1479.5" x2="1177.3" y2="1479.5" stroke="#000" stroke-width="2.2" />
<rect x="1193.2" y="1418.7" width="25.7" height="206.1" fill="#c8ddf6" />
<line x1="1206.1" y1="1388.0" x2="1206.1" y2="1510.3" stroke="#333" stroke-width="2.2" />
<line x1="1201.6" y1="1388.0" x2="1210.6" y2="1388.0" stroke="#333" stroke-width="2.2" />
<line x1="1201.6" y1="1510.3" x2="1210.6" y2="1510.3" stroke="#333" stroke-width="2.2" />
<rect x="1250.8" y="1591.8" width="25.7" height="33.0" fill="#ede6c8" />
<line x1="1263.6" y1="1520.6" x2="1263.6" y2="1624.0" stroke="#000" stroke-width="2.2" />
<line x1="1259.1" y1="1520.6" x2="1268.1" y2="1520.6" stroke="#000" stroke-width="2.2" />
<line x1="1259.1" y1="1624.0" x2="1268.1" y2="1624.0" stroke="#000" stroke-width="2.2" />
<rect x="1283.2" y="1610.0" width="25.7" height="14.8" fill="#c8ddf6" />
<line x1="1146.9" y1="1249.7" x2="1146.9" y2="1626.3" stroke="#000" stroke-width="3" />
<line x1="1136.9" y1="1251.6" x2="1146.9" y2="1251.6" stroke="#000" stroke-width="3" />
<text x="1132.9" y="1260.9" font-size="26" text-anchor="end" fill="#111" >10000</text>
<line x1="1136.9" y1="1325.9" x2="1146.9" y2="1325.9" stroke="#000" stroke-width="3" />
<text x="1132.9" y="1335.2" font-size="26" text-anchor="end" fill="#111" >8000</text>
<line x1="1136.9" y1="1400.5" x2="1146.9" y2="1400.5" stroke="#000" stroke-width="3" />
<text x="1132.9" y="1409.8" font-size="26" text-anchor="end" fill="#111" >6000</text>
<line x1="1136.9" y1="1475.4" x2="1146.9" y2="1475.4" stroke="#000" stroke-width="3" />
<text x="1132.9" y="1484.7" font-size="26" text-anchor="end" fill="#111" >4000</text>
<line x1="1136.9" y1="1549.9" x2="1146.9" y2="1549.9" stroke="#000" stroke-width="3" />
<text x="1132.9" y="1559.2" font-size="26" text-anchor="end" fill="#111" >2000</text>
<line x1="1136.9" y1="1624.8" x2="1146.9" y2="1624.8" stroke="#000" stroke-width="3" />
<text x="1132.9" y="1634.1" font-size="26" text-anchor="end" fill="#111" >0</text>
<line x1="1137.1" y1="1624.8" x2="1322.8" y2="1624.8" stroke="#000" stroke-width="3" />
<line x1="1188.8" y1="1624.8" x2="1188.8" y2="1634.8" stroke="#000" stroke-width="3" />
<text x="1188.8" y="1659.0" font-size="26" text-anchor="middle" fill="#111" >Spike</text>
<line x1="1279.5" y1="1624.8" x2="1279.5" y2="1634.8" stroke="#000" stroke-width="3" />
<text x="1279.5" y="1659.0" font-size="26" text-anchor="middle" fill="#111" >RBD</text>
<circle cx="1172.8" cy="1362.2" r="8.0" fill="#b2a876" stroke="#3a3a3a" stroke-width="0.9"/>
<circle cx="1172.8" cy="1394.4" r="8.0" fill="#b2a876" stroke="#3a3a3a" stroke-width="0.9"/>
<circle cx="1172.8" cy="1479.5" r="8.0" fill="#b2a876" stroke="#3a3a3a" stroke-width="0.9"/>
<circle cx="1206.1" cy="1377.3" r="8.0" fill="#05738c" stroke="#2a2a2a" stroke-width="1.1"/>
<circle cx="1206.1" cy="1397.7" r="8.0" fill="#05738c" stroke="#2a2a2a" stroke-width="1.1"/>
<circle cx="1206.1" cy="1418.7" r="8.0" fill="#05738c" stroke="#2a2a2a" stroke-width="1.1"/>
<circle cx="1206.1" cy="1443.8" r="8.0" fill="#05738c" stroke="#2a2a2a" stroke-width="1.1"/>
<circle cx="1206.1" cy="1576.5" r="8.0" fill="#05738c" stroke="#2a2a2a" stroke-width="1.1"/>
<circle cx="1263.6" cy="1520.6" r="8.0" fill="#b2a876" stroke="#3a3a3a" stroke-width="0.9"/>
<circle cx="1263.6" cy="1591.0" r="8.0" fill="#b2a876" stroke="#3a3a3a" stroke-width="0.9"/>
<circle cx="1263.6" cy="1624.0" r="8.0" fill="#b2a876" stroke="#3a3a3a" stroke-width="0.9"/>
<circle cx="1290.7" cy="1586.8" r="8.0" fill="#05738c" stroke="#2a2a2a" stroke-width="1.1"/>
<circle cx="1301.0" cy="1594.1" r="8.0" fill="#05738c" stroke="#2a2a2a" stroke-width="1.1"/>
<circle cx="1296.3" cy="1610.0" r="8.0" fill="#05738c" stroke="#2a2a2a" stroke-width="1.1"/>
<circle cx="1301.0" cy="1620.6" r="8.0" fill="#05738c" stroke="#2a2a2a" stroke-width="1.1"/>
<circle cx="1290.7" cy="1623.4" r="8.0" fill="#05738c" stroke="#2a2a2a" stroke-width="1.1"/>
<text x="1234.6" y="1708.7" font-size="30.5" text-anchor="middle" fill="#111" >Stimuli</text>
<text transform="translate(1049.6,1433.3) rotate(-90)" font-size="29" text-anchor="middle" fill="#111">IFN<tspan font-family="Liberation Serif">γ</tspan> (ng/mL)</text>
<text x="1531.1" y="1183.2" font-size="36" text-anchor="middle" font-weight="bold" fill="#111" >Th1</text>
<text x="1528.9" y="1220.3" font-size="28" text-anchor="middle" font-weight="bold" fill="#111" >IFN<tspan font-family="Liberation Serif">γ</tspan> ELISpot</text>
<rect x="1446.0" y="1478.2" width="25.7" height="141.6" fill="#ede6c8" />
<line x1="1458.8" y1="1369.8" x2="1458.8" y2="1541.6" stroke="#000" stroke-width="2.2" />
<line x1="1454.3" y1="1369.8" x2="1463.3" y2="1369.8" stroke="#000" stroke-width="2.2" />
<line x1="1454.3" y1="1541.6" x2="1463.3" y2="1541.6" stroke="#000" stroke-width="2.2" />
<rect x="1478.4" y="1409.7" width="25.7" height="210.1" fill="#c8ddf6" />
<line x1="1491.2" y1="1309.2" x2="1491.2" y2="1527.6" stroke="#333" stroke-width="2.2" />
<line x1="1486.7" y1="1309.2" x2="1495.7" y2="1309.2" stroke="#333" stroke-width="2.2" />
<line x1="1486.7" y1="1527.6" x2="1495.7" y2="1527.6" stroke="#333" stroke-width="2.2" />
<rect x="1536.8" y="1595.5" width="25.7" height="24.3" fill="#ede6c8" />
<line x1="1549.6" y1="1593.2" x2="1549.6" y2="1619.8" stroke="#000" stroke-width="2.2" />
<line x1="1545.1" y1="1593.2" x2="1554.1" y2="1593.2" stroke="#000" stroke-width="2.2" />
<line x1="1545.1" y1="1619.8" x2="1554.1" y2="1619.8" stroke="#000" stroke-width="2.2" />
<rect x="1568.6" y="1599.7" width="25.7" height="20.1" fill="#c8ddf6" />
<line x1="1581.4" y1="1575.0" x2="1581.4" y2="1600.0" stroke="#333" stroke-width="2.2" />
<line x1="1576.9" y1="1575.0" x2="1585.9" y2="1575.0" stroke="#333" stroke-width="2.2" />
<line x1="1433.4" y1="1246.9" x2="1433.4" y2="1621.3" stroke="#000" stroke-width="3" />
<line x1="1423.4" y1="1248.8" x2="1433.4" y2="1248.8" stroke="#000" stroke-width="3" />
<text x="1420.8" y="1258.1" font-size="26" text-anchor="end" fill="#111" >500</text>
<line x1="1423.4" y1="1323.1" x2="1433.4" y2="1323.1" stroke="#000" stroke-width="3" />
<text x="1420.8" y="1332.4" font-size="26" text-anchor="end" fill="#111" >400</text>
<line x1="1423.4" y1="1397.7" x2="1433.4" y2="1397.7" stroke="#000" stroke-width="3" />
<text x="1420.8" y="1407.0" font-size="26" text-anchor="end" fill="#111" >300</text>
<line x1="1423.4" y1="1471.7" x2="1433.4" y2="1471.7" stroke="#000" stroke-width="3" />
<text x="1420.8" y="1481.0" font-size="26" text-anchor="end" fill="#111" >200</text>
<line x1="1423.4" y1="1545.8" x2="1433.4" y2="1545.8" stroke="#000" stroke-width="3" />
<text x="1420.8" y="1555.1" font-size="26" text-anchor="end" fill="#111" >100</text>
<line x1="1423.4" y1="1619.8" x2="1433.4" y2="1619.8" stroke="#000" stroke-width="3" />
<text x="1420.8" y="1629.1" font-size="26" text-anchor="end" fill="#111" >0</text>
<line x1="1423.6" y1="1619.8" x2="1607.9" y2="1619.8" stroke="#000" stroke-width="3" />
<line x1="1474.7" y1="1619.8" x2="1474.7" y2="1629.8" stroke="#000" stroke-width="3" />
<text x="1474.7" y="1654.7" font-size="26" text-anchor="middle" fill="#111" >Spike</text>
<line x1="1564.1" y1="1619.8" x2="1564.1" y2="1629.8" stroke="#000" stroke-width="3" />
<text x="1564.1" y="1654.7" font-size="26" text-anchor="middle" fill="#111" >RBD</text>
<circle cx="1458.8" cy="1369.8" r="8.0" fill="#b2a876" stroke="#3a3a3a" stroke-width="0.9"/>
<circle cx="1458.8" cy="1478.2" r="8.0" fill="#b2a876" stroke="#3a3a3a" stroke-width="0.9"/>
<circle cx="1458.8" cy="1541.6" r="8.0" fill="#b2a876" stroke="#3a3a3a" stroke-width="0.9"/>
<circle cx="1491.2" cy="1296.6" r="8.0" fill="#05738c" stroke="#2a2a2a" stroke-width="1.1"/>
<circle cx="1491.2" cy="1320.9" r="8.0" fill="#05738c" stroke="#2a2a2a" stroke-width="1.1"/>
<circle cx="1491.2" cy="1409.7" r="8.0" fill="#05738c" stroke="#2a2a2a" stroke-width="1.1"/>
<circle cx="1491.2" cy="1483.7" r="8.0" fill="#05738c" stroke="#2a2a2a" stroke-width="1.1"/>
<circle cx="1491.2" cy="1570.9" r="8.0" fill="#05738c" stroke="#2a2a2a" stroke-width="1.1"/>
<circle cx="1545.1" cy="1593.2" r="8.0" fill="#b2a876" stroke="#3a3a3a" stroke-width="0.9"/>
<circle cx="1553.6" cy="1593.2" r="8.0" fill="#b2a876" stroke="#3a3a3a" stroke-width="0.9"/>
<circle cx="1549.6" cy="1619.8" r="8.0" fill="#b2a876" stroke="#3a3a3a" stroke-width="0.9"/>
<circle cx="1581.4" cy="1556.4" r="8.0" fill="#05738c" stroke="#2a2a2a" stroke-width="1.1"/>
<circle cx="1585.6" cy="1594.6" r="8.0" fill="#05738c" stroke="#2a2a2a" stroke-width="1.1"/>
<circle cx="1580.8" cy="1598.8" r="8.0" fill="#05738c" stroke="#2a2a2a" stroke-width="1.1"/>
<circle cx="1577.2" cy="1612.8" r="8.0" fill="#05738c" stroke="#2a2a2a" stroke-width="1.1"/>
<circle cx="1585.6" cy="1612.8" r="8.0" fill="#05738c" stroke="#2a2a2a" stroke-width="1.1"/>
<text x="1520.0" y="1702.7" font-size="30.5" text-anchor="middle" fill="#111" >Stimuli</text>
<text transform="translate(1364.5,1429.1) rotate(-90)" font-size="28.5" text-anchor="middle" fill="#111">IFN<tspan font-family="Liberation Serif">γ</tspan> SPU/10<tspan dy="-13" font-size="20">6</tspan><tspan dy="13"> Splenocytes</tspan></text>
<rect x="1620.9" y="1233.1" width="178" height="91.3" fill="none" stroke="#000" stroke-width="2"/>
<circle cx="1635.6" cy="1257.3" r="7.8" fill="#b2a876" stroke="#3a3a3a" stroke-width="0.9"/>
<circle cx="1635.6" cy="1291.9" r="7.8" fill="#05738c" stroke="#2a2a2a" stroke-width="1.1"/>
<text x="1661.5" y="1267.9" font-size="28.5" text-anchor="start" fill="#111" >Needle ID</text>
<text x="1661.5" y="1302.4" font-size="28.5" text-anchor="start" fill="#111" >Stratis IM</text>
<text x="0.5" y="1849.2" font-size="49" text-anchor="start" font-weight="bold" fill="#111" >f</text>
<text x="428.1" y="1877.2" font-size="36.6" text-anchor="middle" font-weight="bold" fill="#111" >Body weight</text>
<polyline points="158.9,2227.7 170.5,2218.2 182.0,2214.9 193.6,2211.5 216.8,2196.0 239.9,2189.2 263.1,2183.8 286.2,2173.7 309.4,2159.5 321.0,2144.6 332.6,2140.6 344.1,2148.0 355.7,2150.7 378.9,2145.3 402.0,2138.5 425.2,2125.7 448.3,2122.3 471.5,2094.0 483.1,2100.7 494.7,2097.3 506.2,2094.0 517.8,2082.5 541.0,2074.4 564.1,2062.9 587.3,2054.8 610.4,2047.3 633.6,2037.9" fill="none" stroke="#555" stroke-width="1.3"/>
<polyline points="170.5,2220.9 182.0,2208.1 193.6,2206.1 216.8,2187.8 239.9,2184.5 263.1,2172.3 286.2,2169.6 309.4,2148.7 321.0,2151.4 332.6,2146.6 344.1,2131.8 355.7,2143.3 378.9,2135.2 402.0,2139.9 425.2,2137.2 448.3,2125.7 471.5,2107.5 483.1,2102.1 494.7,2100.0 506.2,2095.3 517.8,2090.6 541.0,2074.4 564.1,2069.0 587.3,2058.1 610.4,2042.6 633.6,2031.8" fill="none" stroke="#555" stroke-width="1.3"/>
<polyline points="170.5,2227.0 182.0,2219.6 193.6,2214.2 216.8,2200.0 239.9,2186.5 263.1,2177.7 286.2,2168.3 309.4,2146.6 321.0,2138.5 332.6,2137.2 344.1,2137.2 355.7,2132.5 378.9,2113.5 402.0,2100.7 425.2,2089.9 448.3,2080.4 471.5,2073.0 483.1,2071.0 494.7,2062.9 506.2,2065.6 517.8,2072.3 541.0,2044.6 564.1,2038.6 587.3,2033.2 610.4,2038.6 633.6,2014.9" fill="none" stroke="#555" stroke-width="1.3"/>
<polyline points="170.5,2210.1 182.0,2207.4 193.6,2203.4 216.8,2184.5 239.9,2162.2 263.1,2153.4 286.2,2134.5 309.4,2108.1 321.0,2108.8 332.6,2091.2 344.1,2085.8 355.7,2082.5 378.9,2059.5 402.0,2044.6 425.2,2029.8 448.3,2012.9 471.5,2002.1 483.1,1998.7 494.7,1997.4 506.2,1987.2 517.8,1980.5 541.0,1966.3 564.1,1957.5 587.3,1942.6 610.4,1931.2 633.6,1921.7" fill="none" stroke="#555" stroke-width="1.3"/>
<polyline points="170.5,2211.5 182.0,2208.8 193.6,2205.4 216.8,2185.8 239.9,2179.1 263.1,2175.0 286.2,2163.5 309.4,2143.3 321.0,2139.9 332.6,2134.5 344.1,2129.1 355.7,2125.0 378.9,2112.9 402.0,2106.1 425.2,2094.0 448.3,2073.0 471.5,2066.3 483.1,2065.6 494.7,2060.9 506.2,2058.8 517.8,2056.1 541.0,2044.0 564.1,2019.0 587.3,2014.9 610.4,2003.4 633.6,1995.3" fill="none" stroke="#555" stroke-width="1.3"/>
<line x1="147.2" y1="1888.1" x2="147.2" y2="2229.5" stroke="#000" stroke-width="3.7" />
<line x1="137.2" y1="1889.9" x2="147.2" y2="1889.9" stroke="#000" stroke-width="3.7" />
<text x="135.2" y="1899.1" font-size="25.5" text-anchor="end" fill="#111" >50</text>
<line x1="137.2" y1="1957.5" x2="147.2" y2="1957.5" stroke="#000" stroke-width="3.7" />
<text x="135.2" y="1966.6" font-size="25.5" text-anchor="end" fill="#111" >40</text>
<line x1="137.2" y1="2025.0" x2="147.2" y2="2025.0" stroke="#000" stroke-width="3.7" />
<text x="135.2" y="2034.2" font-size="25.5" text-anchor="end" fill="#111" >30</text>
<line x1="137.2" y1="2092.6" x2="147.2" y2="2092.6" stroke="#000" stroke-width="3.7" />
<text x="135.2" y="2101.7" font-size="25.5" text-anchor="end" fill="#111" >20</text>
<line x1="137.2" y1="2160.1" x2="147.2" y2="2160.1" stroke="#000" stroke-width="3.7" />
<text x="135.2" y="2169.3" font-size="25.5" text-anchor="end" fill="#111" >10</text>
<line x1="137.2" y1="2227.7" x2="147.2" y2="2227.7" stroke="#000" stroke-width="3.7" />
<text x="135.2" y="2236.8" font-size="25.5" text-anchor="end" fill="#111" >0</text>
<line x1="137.2" y1="2227.7" x2="635.0" y2="2227.7" stroke="#000" stroke-width="3.7" />
<line x1="147.3" y1="2227.7" x2="147.3" y2="2237.7" stroke="#000" stroke-width="3.7" />
<text x="147.3" y="2261.3" font-size="25.5" text-anchor="middle" fill="#111" >0</text>
<line x1="309.4" y1="2227.7" x2="309.4" y2="2237.7" stroke="#000" stroke-width="3.7" />
<text x="309.4" y="2261.3" font-size="25.5" text-anchor="middle" fill="#111" >2</text>
<line x1="471.5" y1="2227.7" x2="471.5" y2="2237.7" stroke="#000" stroke-width="3.7" />
<text x="471.5" y="2261.3" font-size="25.5" text-anchor="middle" fill="#111" >4</text>
<line x1="633.6" y1="2227.7" x2="633.6" y2="2237.7" stroke="#000" stroke-width="3.7" />
<text x="633.6" y="2261.3" font-size="25.5" text-anchor="middle" fill="#111" >6</text>
<circle cx="170.5" cy="2211.5" r="5.4" fill="#0a809b" stroke="#111" stroke-width="1.3"/>
<circle cx="182.0" cy="2208.8" r="5.4" fill="#0a809b" stroke="#111" stroke-width="1.3"/>
<circle cx="193.6" cy="2205.4" r="5.4" fill="#0a809b" stroke="#111" stroke-width="1.3"/>
<circle cx="216.8" cy="2185.8" r="5.4" fill="#0a809b" stroke="#111" stroke-width="1.3"/>
<circle cx="239.9" cy="2179.1" r="5.4" fill="#0a809b" stroke="#111" stroke-width="1.3"/>
<circle cx="263.1" cy="2175.0" r="5.4" fill="#0a809b" stroke="#111" stroke-width="1.3"/>
<circle cx="286.2" cy="2163.5" r="5.4" fill="#0a809b" stroke="#111" stroke-width="1.3"/>
<circle cx="309.4" cy="2143.3" r="5.4" fill="#0a809b" stroke="#111" stroke-width="1.3"/>
<circle cx="321.0" cy="2139.9" r="5.4" fill="#0a809b" stroke="#111" stroke-width="1.3"/>
<circle cx="332.6" cy="2134.5" r="5.4" fill="#0a809b" stroke="#111" stroke-width="1.3"/>
<circle cx="344.1" cy="2129.1" r="5.4" fill="#0a809b" stroke="#111" stroke-width="1.3"/>
<circle cx="355.7" cy="2125.0" r="5.4" fill="#0a809b" stroke="#111" stroke-width="1.3"/>
<circle cx="378.9" cy="2112.9" r="5.4" fill="#0a809b" stroke="#111" stroke-width="1.3"/>
<circle cx="402.0" cy="2106.1" r="5.4" fill="#0a809b" stroke="#111" stroke-width="1.3"/>
<circle cx="425.2" cy="2094.0" r="5.4" fill="#0a809b" stroke="#111" stroke-width="1.3"/>
<circle cx="448.3" cy="2073.0" r="5.4" fill="#0a809b" stroke="#111" stroke-width="1.3"/>
<circle cx="471.5" cy="2066.3" r="5.4" fill="#0a809b" stroke="#111" stroke-width="1.3"/>
<circle cx="483.1" cy="2065.6" r="5.4" fill="#0a809b" stroke="#111" stroke-width="1.3"/>
<circle cx="494.7" cy="2060.9" r="5.4" fill="#0a809b" stroke="#111" stroke-width="1.3"/>
<circle cx="506.2" cy="2058.8" r="5.4" fill="#0a809b" stroke="#111" stroke-width="1.3"/>
<circle cx="517.8" cy="2056.1" r="5.4" fill="#0a809b" stroke="#111" stroke-width="1.3"/>
<circle cx="541.0" cy="2044.0" r="5.4" fill="#0a809b" stroke="#111" stroke-width="1.3"/>
<circle cx="564.1" cy="2019.0" r="5.4" fill="#0a809b" stroke="#111" stroke-width="1.3"/>
<circle cx="587.3" cy="2014.9" r="5.4" fill="#0a809b" stroke="#111" stroke-width="1.3"/>
<circle cx="610.4" cy="2003.4" r="5.4" fill="#0a809b" stroke="#111" stroke-width="1.3"/>
<circle cx="633.6" cy="1995.3" r="5.4" fill="#0a809b" stroke="#111" stroke-width="1.3"/>
<circle cx="170.5" cy="2210.1" r="5.4" fill="#129db6" stroke="#111" stroke-width="1.3"/>
<circle cx="182.0" cy="2207.4" r="5.4" fill="#129db6" stroke="#111" stroke-width="1.3"/>
<circle cx="193.6" cy="2203.4" r="5.4" fill="#129db6" stroke="#111" stroke-width="1.3"/>
<circle cx="216.8" cy="2184.5" r="5.4" fill="#129db6" stroke="#111" stroke-width="1.3"/>
<circle cx="239.9" cy="2162.2" r="5.4" fill="#129db6" stroke="#111" stroke-width="1.3"/>
<circle cx="263.1" cy="2153.4" r="5.4" fill="#129db6" stroke="#111" stroke-width="1.3"/>
<circle cx="286.2" cy="2134.5" r="5.4" fill="#129db6" stroke="#111" stroke-width="1.3"/>
<circle cx="309.4" cy="2108.1" r="5.4" fill="#129db6" stroke="#111" stroke-width="1.3"/>
<circle cx="321.0" cy="2108.8" r="5.4" fill="#129db6" stroke="#111" stroke-width="1.3"/>
<circle cx="332.6" cy="2091.2" r="5.4" fill="#129db6" stroke="#111" stroke-width="1.3"/>
<circle cx="344.1" cy="2085.8" r="5.4" fill="#129db6" stroke="#111" stroke-width="1.3"/>
<circle cx="355.7" cy="2082.5" r="5.4" fill="#129db6" stroke="#111" stroke-width="1.3"/>
<circle cx="378.9" cy="2059.5" r="5.4" fill="#129db6" stroke="#111" stroke-width="1.3"/>
<circle cx="402.0" cy="2044.6" r="5.4" fill="#129db6" stroke="#111" stroke-width="1.3"/>
<circle cx="425.2" cy="2029.8" r="5.4" fill="#129db6" stroke="#111" stroke-width="1.3"/>
<circle cx="448.3" cy="2012.9" r="5.4" fill="#129db6" stroke="#111" stroke-width="1.3"/>
<circle cx="471.5" cy="2002.1" r="5.4" fill="#129db6" stroke="#111" stroke-width="1.3"/>
<circle cx="483.1" cy="1998.7" r="5.4" fill="#129db6" stroke="#111" stroke-width="1.3"/>
<circle cx="494.7" cy="1997.4" r="5.4" fill="#129db6" stroke="#111" stroke-width="1.3"/>
<circle cx="506.2" cy="1987.2" r="5.4" fill="#129db6" stroke="#111" stroke-width="1.3"/>
<circle cx="517.8" cy="1980.5" r="5.4" fill="#129db6" stroke="#111" stroke-width="1.3"/>
<circle cx="541.0" cy="1966.3" r="5.4" fill="#129db6" stroke="#111" stroke-width="1.3"/>
<circle cx="564.1" cy="1957.5" r="5.4" fill="#129db6" stroke="#111" stroke-width="1.3"/>
<circle cx="587.3" cy="1942.6" r="5.4" fill="#129db6" stroke="#111" stroke-width="1.3"/>
<circle cx="610.4" cy="1931.2" r="5.4" fill="#129db6" stroke="#111" stroke-width="1.3"/>
<circle cx="633.6" cy="1921.7" r="5.4" fill="#129db6" stroke="#111" stroke-width="1.3"/>
<circle cx="170.5" cy="2227.0" r="5.4" fill="#55a0fa" stroke="#111" stroke-width="1.3"/>
<circle cx="182.0" cy="2219.6" r="5.4" fill="#55a0fa" stroke="#111" stroke-width="1.3"/>
<circle cx="193.6" cy="2214.2" r="5.4" fill="#55a0fa" stroke="#111" stroke-width="1.3"/>
<circle cx="216.8" cy="2200.0" r="5.4" fill="#55a0fa" stroke="#111" stroke-width="1.3"/>
<circle cx="239.9" cy="2186.5" r="5.4" fill="#55a0fa" stroke="#111" stroke-width="1.3"/>
<circle cx="263.1" cy="2177.7" r="5.4" fill="#55a0fa" stroke="#111" stroke-width="1.3"/>
<circle cx="286.2" cy="2168.3" r="5.4" fill="#55a0fa" stroke="#111" stroke-width="1.3"/>
<circle cx="309.4" cy="2146.6" r="5.4" fill="#55a0fa" stroke="#111" stroke-width="1.3"/>
<circle cx="321.0" cy="2138.5" r="5.4" fill="#55a0fa" stroke="#111" stroke-width="1.3"/>
<circle cx="332.6" cy="2137.2" r="5.4" fill="#55a0fa" stroke="#111" stroke-width="1.3"/>
<circle cx="344.1" cy="2137.2" r="5.4" fill="#55a0fa" stroke="#111" stroke-width="1.3"/>
<circle cx="355.7" cy="2132.5" r="5.4" fill="#55a0fa" stroke="#111" stroke-width="1.3"/>
<circle cx="378.9" cy="2113.5" r="5.4" fill="#55a0fa" stroke="#111" stroke-width="1.3"/>
<circle cx="402.0" cy="2100.7" r="5.4" fill="#55a0fa" stroke="#111" stroke-width="1.3"/>
<circle cx="425.2" cy="2089.9" r="5.4" fill="#55a0fa" stroke="#111" stroke-width="1.3"/>
<circle cx="448.3" cy="2080.4" r="5.4" fill="#55a0fa" stroke="#111" stroke-width="1.3"/>
<circle cx="471.5" cy="2073.0" r="5.4" fill="#55a0fa" stroke="#111" stroke-width="1.3"/>
<circle cx="483.1" cy="2071.0" r="5.4" fill="#55a0fa" stroke="#111" stroke-width="1.3"/>
<circle cx="494.7" cy="2062.9" r="5.4" fill="#55a0fa" stroke="#111" stroke-width="1.3"/>
<circle cx="506.2" cy="2065.6" r="5.4" fill="#55a0fa" stroke="#111" stroke-width="1.3"/>
<circle cx="517.8" cy="2072.3" r="5.4" fill="#55a0fa" stroke="#111" stroke-width="1.3"/>
<circle cx="541.0" cy="2044.6" r="5.4" fill="#55a0fa" stroke="#111" stroke-width="1.3"/>
<circle cx="564.1" cy="2038.6" r="5.4" fill="#55a0fa" stroke="#111" stroke-width="1.3"/>
<circle cx="587.3" cy="2033.2" r="5.4" fill="#55a0fa" stroke="#111" stroke-width="1.3"/>
<circle cx="610.4" cy="2038.6" r="5.4" fill="#55a0fa" stroke="#111" stroke-width="1.3"/>
<circle cx="633.6" cy="2014.9" r="5.4" fill="#55a0fa" stroke="#111" stroke-width="1.3"/>
<circle cx="170.5" cy="2220.9" r="5.4" fill="#92bef5" stroke="#111" stroke-width="1.3"/>
<circle cx="182.0" cy="2208.1" r="5.4" fill="#92bef5" stroke="#111" stroke-width="1.3"/>
<circle cx="193.6" cy="2206.1" r="5.4" fill="#92bef5" stroke="#111" stroke-width="1.3"/>
<circle cx="216.8" cy="2187.8" r="5.4" fill="#92bef5" stroke="#111" stroke-width="1.3"/>
<circle cx="239.9" cy="2184.5" r="5.4" fill="#92bef5" stroke="#111" stroke-width="1.3"/>
<circle cx="263.1" cy="2172.3" r="5.4" fill="#92bef5" stroke="#111" stroke-width="1.3"/>
<circle cx="286.2" cy="2169.6" r="5.4" fill="#92bef5" stroke="#111" stroke-width="1.3"/>
<circle cx="309.4" cy="2148.7" r="5.4" fill="#92bef5" stroke="#111" stroke-width="1.3"/>
<circle cx="321.0" cy="2151.4" r="5.4" fill="#92bef5" stroke="#111" stroke-width="1.3"/>
<circle cx="332.6" cy="2146.6" r="5.4" fill="#92bef5" stroke="#111" stroke-width="1.3"/>
<circle cx="344.1" cy="2131.8" r="5.4" fill="#92bef5" stroke="#111" stroke-width="1.3"/>
<circle cx="355.7" cy="2143.3" r="5.4" fill="#92bef5" stroke="#111" stroke-width="1.3"/>
<circle cx="378.9" cy="2135.2" r="5.4" fill="#92bef5" stroke="#111" stroke-width="1.3"/>
<circle cx="402.0" cy="2139.9" r="5.4" fill="#92bef5" stroke="#111" stroke-width="1.3"/>
<circle cx="425.2" cy="2137.2" r="5.4" fill="#92bef5" stroke="#111" stroke-width="1.3"/>
<circle cx="448.3" cy="2125.7" r="5.4" fill="#92bef5" stroke="#111" stroke-width="1.3"/>
<circle cx="471.5" cy="2107.5" r="5.4" fill="#92bef5" stroke="#111" stroke-width="1.3"/>
<circle cx="483.1" cy="2102.1" r="5.4" fill="#92bef5" stroke="#111" stroke-width="1.3"/>
<circle cx="494.7" cy="2100.0" r="5.4" fill="#92bef5" stroke="#111" stroke-width="1.3"/>
<circle cx="506.2" cy="2095.3" r="5.4" fill="#92bef5" stroke="#111" stroke-width="1.3"/>
<circle cx="517.8" cy="2090.6" r="5.4" fill="#92bef5" stroke="#111" stroke-width="1.3"/>
<circle cx="541.0" cy="2074.4" r="5.4" fill="#92bef5" stroke="#111" stroke-width="1.3"/>
<circle cx="564.1" cy="2069.0" r="5.4" fill="#92bef5" stroke="#111" stroke-width="1.3"/>
<circle cx="587.3" cy="2058.1" r="5.4" fill="#92bef5" stroke="#111" stroke-width="1.3"/>
<circle cx="610.4" cy="2042.6" r="5.4" fill="#92bef5" stroke="#111" stroke-width="1.3"/>
<circle cx="633.6" cy="2031.8" r="5.4" fill="#92bef5" stroke="#111" stroke-width="1.3"/>
<circle cx="170.5" cy="2218.2" r="5.4" fill="#cde0f8" stroke="#111" stroke-width="1.3"/>
<circle cx="182.0" cy="2214.9" r="5.4" fill="#cde0f8" stroke="#111" stroke-width="1.3"/>
<circle cx="193.6" cy="2211.5" r="5.4" fill="#cde0f8" stroke="#111" stroke-width="1.3"/>
<circle cx="216.8" cy="2196.0" r="5.4" fill="#cde0f8" stroke="#111" stroke-width="1.3"/>
<circle cx="239.9" cy="2189.2" r="5.4" fill="#cde0f8" stroke="#111" stroke-width="1.3"/>
<circle cx="263.1" cy="2183.8" r="5.4" fill="#cde0f8" stroke="#111" stroke-width="1.3"/>
<circle cx="286.2" cy="2173.7" r="5.4" fill="#cde0f8" stroke="#111" stroke-width="1.3"/>
<circle cx="309.4" cy="2159.5" r="5.4" fill="#cde0f8" stroke="#111" stroke-width="1.3"/>
<circle cx="321.0" cy="2144.6" r="5.4" fill="#cde0f8" stroke="#111" stroke-width="1.3"/>
<circle cx="332.6" cy="2140.6" r="5.4" fill="#cde0f8" stroke="#111" stroke-width="1.3"/>
<circle cx="344.1" cy="2148.0" r="5.4" fill="#cde0f8" stroke="#111" stroke-width="1.3"/>
<circle cx="355.7" cy="2150.7" r="5.4" fill="#cde0f8" stroke="#111" stroke-width="1.3"/>
<circle cx="378.9" cy="2145.3" r="5.4" fill="#cde0f8" stroke="#111" stroke-width="1.3"/>
<circle cx="402.0" cy="2138.5" r="5.4" fill="#cde0f8" stroke="#111" stroke-width="1.3"/>
<circle cx="425.2" cy="2125.7" r="5.4" fill="#cde0f8" stroke="#111" stroke-width="1.3"/>
<circle cx="448.3" cy="2122.3" r="5.4" fill="#cde0f8" stroke="#111" stroke-width="1.3"/>
<circle cx="471.5" cy="2094.0" r="5.4" fill="#cde0f8" stroke="#111" stroke-width="1.3"/>
<circle cx="483.1" cy="2100.7" r="5.4" fill="#cde0f8" stroke="#111" stroke-width="1.3"/>
<circle cx="494.7" cy="2097.3" r="5.4" fill="#cde0f8" stroke="#111" stroke-width="1.3"/>
<circle cx="506.2" cy="2094.0" r="5.4" fill="#cde0f8" stroke="#111" stroke-width="1.3"/>
<circle cx="517.8" cy="2082.5" r="5.4" fill="#cde0f8" stroke="#111" stroke-width="1.3"/>
<circle cx="541.0" cy="2074.4" r="5.4" fill="#cde0f8" stroke="#111" stroke-width="1.3"/>
<circle cx="564.1" cy="2062.9" r="5.4" fill="#cde0f8" stroke="#111" stroke-width="1.3"/>
<circle cx="587.3" cy="2054.8" r="5.4" fill="#cde0f8" stroke="#111" stroke-width="1.3"/>
<circle cx="610.4" cy="2047.3" r="5.4" fill="#cde0f8" stroke="#111" stroke-width="1.3"/>
<circle cx="633.6" cy="2037.9" r="5.4" fill="#cde0f8" stroke="#111" stroke-width="1.3"/>
<circle cx="158.9" cy="2227.7" r="5.4" fill="#cde0f8" stroke="#111" stroke-width="1.3"/>
<text x="390.6" y="2306.0" font-size="31.5" text-anchor="middle" fill="#111" >Week</text>
<text transform="translate(57.7,2052.6) rotate(-90)" font-size="31.5" text-anchor="middle" fill="#111">Body Weight Change</text>
<text transform="translate(94.5,2052.7) rotate(-90)" font-size="31.5" text-anchor="middle" fill="#111">from Baseline (%)</text>
<text x="680.2" y="1911.6" font-size="21.8" text-anchor="start" fill="#111" >Animal</text>
<circle cx="697.8" cy="1937.5" r="5.5" fill="#cde0f8" stroke="#111" stroke-width="1.3"/>
<text x="723.7" y="1945.5" font-size="21.8" text-anchor="start" fill="#111" >#1</text>
<circle cx="697.8" cy="1968.1" r="5.5" fill="#92bef5" stroke="#111" stroke-width="1.3"/>
<text x="723.7" y="1976.1" font-size="21.8" text-anchor="start" fill="#111" >#2</text>
<circle cx="697.8" cy="1998.8" r="5.5" fill="#55a0fa" stroke="#111" stroke-width="1.3"/>
<text x="723.7" y="2006.8" font-size="21.8" text-anchor="start" fill="#111" >#3</text>
<circle cx="697.8" cy="2029.4" r="5.5" fill="#129db6" stroke="#111" stroke-width="1.3"/>
<text x="723.7" y="2037.4" font-size="21.8" text-anchor="start" fill="#111" >#4</text>
<circle cx="697.8" cy="2060.0" r="5.5" fill="#0a809b" stroke="#111" stroke-width="1.3"/>
<text x="723.7" y="2068.0" font-size="21.8" text-anchor="start" fill="#111" >#5</text>
<text x="887.5" y="1850.5" font-size="50" text-anchor="start" font-weight="bold" fill="#111" >g</text>
<text x="1283.7" y="1876.8" font-size="36.6" text-anchor="middle" font-weight="bold" fill="#111" >Body temperature</text>
<polyline points="1057.4,2091.8 1068.2,2063.6 1071.4,2052.4 1079.0,2080.5 1089.9,2103.0 1100.7,2074.9 1111.5,2074.9 1122.3,2080.5 1133.2,2097.4 1144.0,2091.8 1154.8,2091.8 1165.6,2103.0 1176.5,2074.9 1187.3,2097.4 1198.1,2114.3 1208.9,2103.0 1219.8,2069.3 1230.6,2103.0 1241.4,2097.4 1252.2,2097.4 1263.1,2103.0 1273.9,2125.6 1284.7,2086.2 1295.5,2086.2 1306.4,2114.3 1317.2,2080.5 1328.0,2080.5 1338.8,2108.7 1349.7,2103.0 1360.5,2097.4 1371.3,2074.9 1382.1,2103.0 1393.0,2108.7 1403.8,2086.2 1414.6,2103.0 1425.4,2097.4 1436.3,2091.8 1447.1,2103.0 1457.9,2074.9 1468.8,2058.0 1479.6,2097.4 1490.4,2086.2 1501.2,2080.5 1512.1,2097.4 1522.9,2097.4" fill="none" stroke="#444" stroke-width="1.1"/>
<polyline points="1057.4,2097.4 1068.2,2080.5 1071.4,2035.5 1079.0,2091.8 1089.9,2097.4 1100.7,2058.0 1111.5,2114.3 1122.3,2114.3 1133.2,2080.5 1144.0,2058.0 1154.8,2074.9 1165.6,2058.0 1176.5,2114.3 1187.3,2086.2 1198.1,2069.3 1208.9,2091.8 1219.8,2052.4 1230.6,2086.2 1241.4,2080.5 1252.2,2063.6 1263.1,2086.2 1273.9,2086.2 1284.7,2114.3 1295.5,2069.3 1306.4,2069.3 1317.2,2046.7 1328.0,2069.3 1338.8,2080.5 1349.7,2074.9 1360.5,2086.2 1371.3,2046.7 1382.1,2052.4 1393.0,2074.9 1403.8,2058.0 1414.6,2086.2 1425.4,2091.8 1436.3,2052.4 1447.1,2097.4 1457.9,2080.5 1468.8,2035.5 1479.6,2052.4 1490.4,2097.4 1501.2,2097.4 1512.1,2041.1 1522.9,2058.0" fill="none" stroke="#444" stroke-width="1.1"/>
<polyline points="1057.4,2086.2 1068.2,2108.7 1071.4,2108.7 1079.0,2119.9 1089.9,2114.3 1100.7,2091.8 1111.5,2125.6 1122.3,2103.0 1133.2,2114.3 1144.0,2086.2 1154.8,2103.0 1165.6,2108.7 1176.5,2131.2 1187.3,2080.5 1198.1,2097.4 1208.9,2080.5 1219.8,2086.2 1230.6,2097.4 1241.4,2103.0 1252.2,2114.3 1263.1,2091.8 1273.9,2074.9 1284.7,2103.0 1295.5,2114.3 1306.4,2103.0 1317.2,2108.7 1328.0,2108.7 1338.8,2114.3 1349.7,2097.4 1360.5,2108.7 1371.3,2103.0 1382.1,2108.7 1393.0,2125.6 1403.8,2103.0 1414.6,2119.9 1425.4,2136.8 1436.3,2142.5 1447.1,2108.7 1457.9,2142.5 1468.8,2097.4 1479.6,2125.6 1490.4,2153.7 1501.2,2114.3 1512.1,2142.5 1522.9,2131.2" fill="none" stroke="#444" stroke-width="1.1"/>
<polyline points="1057.4,2086.2 1068.2,2119.9 1071.4,2069.3 1079.0,2097.4 1089.9,2080.5 1100.7,2086.2 1111.5,2086.2 1122.3,2108.7 1133.2,2119.9 1144.0,2080.5 1154.8,2086.2 1165.6,2091.8 1176.5,2091.8 1187.3,2091.8 1198.1,2086.2 1208.9,2114.3 1219.8,2080.5 1230.6,2069.3 1241.4,2080.5 1252.2,2069.3 1263.1,2091.8 1273.9,2091.8 1284.7,2091.8 1295.5,2097.4 1306.4,2086.2 1317.2,2063.6 1328.0,2091.8 1338.8,2086.2 1349.7,2086.2 1360.5,2103.0 1371.3,2069.3 1382.1,2074.9 1393.0,2086.2 1403.8,2108.7 1414.6,2086.2 1425.4,2058.0 1436.3,2069.3 1447.1,2091.8 1457.9,2086.2 1468.8,2069.3 1479.6,2091.8 1490.4,2086.2 1501.2,2080.5 1512.1,2074.9 1522.9,2080.5" fill="none" stroke="#444" stroke-width="1.1"/>
<polyline points="1057.4,2063.6 1068.2,2069.3 1071.4,2046.7 1079.0,2074.9 1089.9,2080.5 1100.7,2063.6 1111.5,2069.3 1122.3,2069.3 1133.2,2058.0 1144.0,2046.7 1154.8,2074.9 1165.6,2069.3 1176.5,2080.5 1187.3,2063.6 1198.1,2074.9 1208.9,2063.6 1219.8,2074.9 1230.6,2080.5 1241.4,2091.8 1252.2,2080.5 1263.1,2074.9 1273.9,2097.4 1284.7,2074.9 1295.5,2080.5 1306.4,2080.5 1317.2,2091.8 1328.0,2086.2 1338.8,2086.2 1349.7,2080.5 1360.5,2080.5 1371.3,2091.8 1382.1,2086.2 1393.0,2091.8 1403.8,2097.4 1414.6,2086.2 1425.4,2080.5 1436.3,2108.7 1447.1,2086.2 1457.9,2086.2 1468.8,2052.4 1479.6,2080.5 1490.4,2091.8 1501.2,2086.2 1512.1,2052.4 1522.9,2063.6" fill="none" stroke="#444" stroke-width="1.1"/>
<line x1="1039.1" y1="2002.6" x2="1520.5" y2="2002.6" stroke="#444" stroke-width="1.2" stroke-dasharray="1.3,2.05"/>
<text x="1048.0" y="1995.2" font-size="22" text-anchor="start" fill="#111" >Fever</text>
<line x1="1036.3" y1="1888.1" x2="1036.3" y2="2228.7" stroke="#000" stroke-width="3.5" />
<line x1="1026.3" y1="1889.0" x2="1036.3" y2="1889.0" stroke="#000" stroke-width="3.5" />
<text x="1024.0" y="1898.1" font-size="25.5" text-anchor="end" fill="#111" >42</text>
<line x1="1026.3" y1="2002.6" x2="1036.3" y2="2002.6" stroke="#000" stroke-width="3.5" />
<text x="1024.0" y="2011.7" font-size="25.5" text-anchor="end" fill="#111" >40</text>
<line x1="1026.3" y1="2115.2" x2="1036.3" y2="2115.2" stroke="#000" stroke-width="3.5" />
<text x="1024.0" y="2124.3" font-size="25.5" text-anchor="end" fill="#111" >38</text>
<line x1="1026.3" y1="2226.9" x2="1036.3" y2="2226.9" stroke="#000" stroke-width="3.5" />
<text x="1024.0" y="2236.0" font-size="25.5" text-anchor="end" fill="#111" >36</text>
<line x1="1026.4" y1="2226.9" x2="1523.8" y2="2226.9" stroke="#000" stroke-width="3.5" />
<line x1="1068.2" y1="2226.9" x2="1068.2" y2="2236.9" stroke="#000" stroke-width="3.5" />
<text x="1068.2" y="2260.7" font-size="25.5" text-anchor="middle" fill="#111" >0</text>
<line x1="1219.8" y1="2226.9" x2="1219.8" y2="2236.9" stroke="#000" stroke-width="3.5" />
<text x="1219.8" y="2260.7" font-size="25.5" text-anchor="middle" fill="#111" >2</text>
<line x1="1371.3" y1="2226.9" x2="1371.3" y2="2236.9" stroke="#000" stroke-width="3.5" />
<text x="1371.3" y="2260.7" font-size="25.5" text-anchor="middle" fill="#111" >4</text>
<line x1="1522.9" y1="2226.9" x2="1522.9" y2="2236.9" stroke="#000" stroke-width="3.5" />
<text x="1522.9" y="2260.7" font-size="25.5" text-anchor="middle" fill="#111" >6</text>
<circle cx="1057.4" cy="2063.6" r="5.35" fill="#0a809b" stroke="#2a2a2a" stroke-width="1.15"/>
<circle cx="1068.2" cy="2069.3" r="5.35" fill="#0a809b" stroke="#2a2a2a" stroke-width="1.15"/>
<circle cx="1071.4" cy="2046.7" r="5.35" fill="#0a809b" stroke="#2a2a2a" stroke-width="1.15"/>
<circle cx="1079.0" cy="2074.9" r="5.35" fill="#0a809b" stroke="#2a2a2a" stroke-width="1.15"/>
<circle cx="1089.9" cy="2080.5" r="5.35" fill="#0a809b" stroke="#2a2a2a" stroke-width="1.15"/>
<circle cx="1100.7" cy="2063.6" r="5.35" fill="#0a809b" stroke="#2a2a2a" stroke-width="1.15"/>
<circle cx="1111.5" cy="2069.3" r="5.35" fill="#0a809b" stroke="#2a2a2a" stroke-width="1.15"/>
<circle cx="1122.3" cy="2069.3" r="5.35" fill="#0a809b" stroke="#2a2a2a" stroke-width="1.15"/>
<circle cx="1133.2" cy="2058.0" r="5.35" fill="#0a809b" stroke="#2a2a2a" stroke-width="1.15"/>
<circle cx="1144.0" cy="2046.7" r="5.35" fill="#0a809b" stroke="#2a2a2a" stroke-width="1.15"/>
<circle cx="1154.8" cy="2074.9" r="5.35" fill="#0a809b" stroke="#2a2a2a" stroke-width="1.15"/>
<circle cx="1165.6" cy="2069.3" r="5.35" fill="#0a809b" stroke="#2a2a2a" stroke-width="1.15"/>
<circle cx="1176.5" cy="2080.5" r="5.35" fill="#0a809b" stroke="#2a2a2a" stroke-width="1.15"/>
<circle cx="1187.3" cy="2063.6" r="5.35" fill="#0a809b" stroke="#2a2a2a" stroke-width="1.15"/>
<circle cx="1198.1" cy="2074.9" r="5.35" fill="#0a809b" stroke="#2a2a2a" stroke-width="1.15"/>
<circle cx="1208.9" cy="2063.6" r="5.35" fill="#0a809b" stroke="#2a2a2a" stroke-width="1.15"/>
<circle cx="1219.8" cy="2074.9" r="5.35" fill="#0a809b" stroke="#2a2a2a" stroke-width="1.15"/>
<circle cx="1230.6" cy="2080.5" r="5.35" fill="#0a809b" stroke="#2a2a2a" stroke-width="1.15"/>
<circle cx="1241.4" cy="2091.8" r="5.35" fill="#0a809b" stroke="#2a2a2a" stroke-width="1.15"/>
<circle cx="1252.2" cy="2080.5" r="5.35" fill="#0a809b" stroke="#2a2a2a" stroke-width="1.15"/>
<circle cx="1263.1" cy="2074.9" r="5.35" fill="#0a809b" stroke="#2a2a2a" stroke-width="1.15"/>
<circle cx="1273.9" cy="2097.4" r="5.35" fill="#0a809b" stroke="#2a2a2a" stroke-width="1.15"/>
<circle cx="1284.7" cy="2074.9" r="5.35" fill="#0a809b" stroke="#2a2a2a" stroke-width="1.15"/>
<circle cx="1295.5" cy="2080.5" r="5.35" fill="#0a809b" stroke="#2a2a2a" stroke-width="1.15"/>
<circle cx="1306.4" cy="2080.5" r="5.35" fill="#0a809b" stroke="#2a2a2a" stroke-width="1.15"/>
<circle cx="1317.2" cy="2091.8" r="5.35" fill="#0a809b" stroke="#2a2a2a" stroke-width="1.15"/>
<circle cx="1328.0" cy="2086.2" r="5.35" fill="#0a809b" stroke="#2a2a2a" stroke-width="1.15"/>
<circle cx="1338.8" cy="2086.2" r="5.35" fill="#0a809b" stroke="#2a2a2a" stroke-width="1.15"/>
<circle cx="1349.7" cy="2080.5" r="5.35" fill="#0a809b" stroke="#2a2a2a" stroke-width="1.15"/>
<circle cx="1360.5" cy="2080.5" r="5.35" fill="#0a809b" stroke="#2a2a2a" stroke-width="1.15"/>
<circle cx="1371.3" cy="2091.8" r="5.35" fill="#0a809b" stroke="#2a2a2a" stroke-width="1.15"/>
<circle cx="1382.1" cy="2086.2" r="5.35" fill="#0a809b" stroke="#2a2a2a" stroke-width="1.15"/>
<circle cx="1393.0" cy="2091.8" r="5.35" fill="#0a809b" stroke="#2a2a2a" stroke-width="1.15"/>
<circle cx="1403.8" cy="2097.4" r="5.35" fill="#0a809b" stroke="#2a2a2a" stroke-width="1.15"/>
<circle cx="1414.6" cy="2086.2" r="5.35" fill="#0a809b" stroke="#2a2a2a" stroke-width="1.15"/>
<circle cx="1425.4" cy="2080.5" r="5.35" fill="#0a809b" stroke="#2a2a2a" stroke-width="1.15"/>
<circle cx="1436.3" cy="2108.7" r="5.35" fill="#0a809b" stroke="#2a2a2a" stroke-width="1.15"/>
<circle cx="1447.1" cy="2086.2" r="5.35" fill="#0a809b" stroke="#2a2a2a" stroke-width="1.15"/>
<circle cx="1457.9" cy="2086.2" r="5.35" fill="#0a809b" stroke="#2a2a2a" stroke-width="1.15"/>
<circle cx="1468.8" cy="2052.4" r="5.35" fill="#0a809b" stroke="#2a2a2a" stroke-width="1.15"/>
<circle cx="1479.6" cy="2080.5" r="5.35" fill="#0a809b" stroke="#2a2a2a" stroke-width="1.15"/>
<circle cx="1490.4" cy="2091.8" r="5.35" fill="#0a809b" stroke="#2a2a2a" stroke-width="1.15"/>
<circle cx="1501.2" cy="2086.2" r="5.35" fill="#0a809b" stroke="#2a2a2a" stroke-width="1.15"/>
<circle cx="1512.1" cy="2052.4" r="5.35" fill="#0a809b" stroke="#2a2a2a" stroke-width="1.15"/>
<circle cx="1522.9" cy="2063.6" r="5.35" fill="#0a809b" stroke="#2a2a2a" stroke-width="1.15"/>
<circle cx="1057.4" cy="2086.2" r="5.35" fill="#129db6" stroke="#2a2a2a" stroke-width="1.15"/>
<circle cx="1068.2" cy="2119.9" r="5.35" fill="#129db6" stroke="#2a2a2a" stroke-width="1.15"/>
<circle cx="1071.4" cy="2069.3" r="5.35" fill="#129db6" stroke="#2a2a2a" stroke-width="1.15"/>
<circle cx="1079.0" cy="2097.4" r="5.35" fill="#129db6" stroke="#2a2a2a" stroke-width="1.15"/>
<circle cx="1089.9" cy="2080.5" r="5.35" fill="#129db6" stroke="#2a2a2a" stroke-width="1.15"/>
<circle cx="1100.7" cy="2086.2" r="5.35" fill="#129db6" stroke="#2a2a2a" stroke-width="1.15"/>
<circle cx="1111.5" cy="2086.2" r="5.35" fill="#129db6" stroke="#2a2a2a" stroke-width="1.15"/>
<circle cx="1122.3" cy="2108.7" r="5.35" fill="#129db6" stroke="#2a2a2a" stroke-width="1.15"/>
<circle cx="1133.2" cy="2119.9" r="5.35" fill="#129db6" stroke="#2a2a2a" stroke-width="1.15"/>
<circle cx="1144.0" cy="2080.5" r="5.35" fill="#129db6" stroke="#2a2a2a" stroke-width="1.15"/>
<circle cx="1154.8" cy="2086.2" r="5.35" fill="#129db6" stroke="#2a2a2a" stroke-width="1.15"/>
<circle cx="1165.6" cy="2091.8" r="5.35" fill="#129db6" stroke="#2a2a2a" stroke-width="1.15"/>
<circle cx="1176.5" cy="2091.8" r="5.35" fill="#129db6" stroke="#2a2a2a" stroke-width="1.15"/>
<circle cx="1187.3" cy="2091.8" r="5.35" fill="#129db6" stroke="#2a2a2a" stroke-width="1.15"/>
<circle cx="1198.1" cy="2086.2" r="5.35" fill="#129db6" stroke="#2a2a2a" stroke-width="1.15"/>
<circle cx="1208.9" cy="2114.3" r="5.35" fill="#129db6" stroke="#2a2a2a" stroke-width="1.15"/>
<circle cx="1219.8" cy="2080.5" r="5.35" fill="#129db6" stroke="#2a2a2a" stroke-width="1.15"/>
<circle cx="1230.6" cy="2069.3" r="5.35" fill="#129db6" stroke="#2a2a2a" stroke-width="1.15"/>
<circle cx="1241.4" cy="2080.5" r="5.35" fill="#129db6" stroke="#2a2a2a" stroke-width="1.15"/>
<circle cx="1252.2" cy="2069.3" r="5.35" fill="#129db6" stroke="#2a2a2a" stroke-width="1.15"/>
<circle cx="1263.1" cy="2091.8" r="5.35" fill="#129db6" stroke="#2a2a2a" stroke-width="1.15"/>
<circle cx="1273.9" cy="2091.8" r="5.35" fill="#129db6" stroke="#2a2a2a" stroke-width="1.15"/>
<circle cx="1284.7" cy="2091.8" r="5.35" fill="#129db6" stroke="#2a2a2a" stroke-width="1.15"/>
<circle cx="1295.5" cy="2097.4" r="5.35" fill="#129db6" stroke="#2a2a2a" stroke-width="1.15"/>
<circle cx="1306.4" cy="2086.2" r="5.35" fill="#129db6" stroke="#2a2a2a" stroke-width="1.15"/>
<circle cx="1317.2" cy="2063.6" r="5.35" fill="#129db6" stroke="#2a2a2a" stroke-width="1.15"/>
<circle cx="1328.0" cy="2091.8" r="5.35" fill="#129db6" stroke="#2a2a2a" stroke-width="1.15"/>
<circle cx="1338.8" cy="2086.2" r="5.35" fill="#129db6" stroke="#2a2a2a" stroke-width="1.15"/>
<circle cx="1349.7" cy="2086.2" r="5.35" fill="#129db6" stroke="#2a2a2a" stroke-width="1.15"/>
<circle cx="1360.5" cy="2103.0" r="5.35" fill="#129db6" stroke="#2a2a2a" stroke-width="1.15"/>
<circle cx="1371.3" cy="2069.3" r="5.35" fill="#129db6" stroke="#2a2a2a" stroke-width="1.15"/>
<circle cx="1382.1" cy="2074.9" r="5.35" fill="#129db6" stroke="#2a2a2a" stroke-width="1.15"/>
<circle cx="1393.0" cy="2086.2" r="5.35" fill="#129db6" stroke="#2a2a2a" stroke-width="1.15"/>
<circle cx="1403.8" cy="2108.7" r="5.35" fill="#129db6" stroke="#2a2a2a" stroke-width="1.15"/>
<circle cx="1414.6" cy="2086.2" r="5.35" fill="#129db6" stroke="#2a2a2a" stroke-width="1.15"/>
<circle cx="1425.4" cy="2058.0" r="5.35" fill="#129db6" stroke="#2a2a2a" stroke-width="1.15"/>
<circle cx="1436.3" cy="2069.3" r="5.35" fill="#129db6" stroke="#2a2a2a" stroke-width="1.15"/>
<circle cx="1447.1" cy="2091.8" r="5.35" fill="#129db6" stroke="#2a2a2a" stroke-width="1.15"/>
<circle cx="1457.9" cy="2086.2" r="5.35" fill="#129db6" stroke="#2a2a2a" stroke-width="1.15"/>
<circle cx="1468.8" cy="2069.3" r="5.35" fill="#129db6" stroke="#2a2a2a" stroke-width="1.15"/>
<circle cx="1479.6" cy="2091.8" r="5.35" fill="#129db6" stroke="#2a2a2a" stroke-width="1.15"/>
<circle cx="1490.4" cy="2086.2" r="5.35" fill="#129db6" stroke="#2a2a2a" stroke-width="1.15"/>
<circle cx="1501.2" cy="2080.5" r="5.35" fill="#129db6" stroke="#2a2a2a" stroke-width="1.15"/>
<circle cx="1512.1" cy="2074.9" r="5.35" fill="#129db6" stroke="#2a2a2a" stroke-width="1.15"/>
<circle cx="1522.9" cy="2080.5" r="5.35" fill="#129db6" stroke="#2a2a2a" stroke-width="1.15"/>
<circle cx="1057.4" cy="2086.2" r="5.35" fill="#55a0fa" stroke="#2a2a2a" stroke-width="1.15"/>
<circle cx="1068.2" cy="2108.7" r="5.35" fill="#55a0fa" stroke="#2a2a2a" stroke-width="1.15"/>
<circle cx="1071.4" cy="2108.7" r="5.35" fill="#55a0fa" stroke="#2a2a2a" stroke-width="1.15"/>
<circle cx="1079.0" cy="2119.9" r="5.35" fill="#55a0fa" stroke="#2a2a2a" stroke-width="1.15"/>
<circle cx="1089.9" cy="2114.3" r="5.35" fill="#55a0fa" stroke="#2a2a2a" stroke-width="1.15"/>
<circle cx="1100.7" cy="2091.8" r="5.35" fill="#55a0fa" stroke="#2a2a2a" stroke-width="1.15"/>
<circle cx="1111.5" cy="2125.6" r="5.35" fill="#55a0fa" stroke="#2a2a2a" stroke-width="1.15"/>
<circle cx="1122.3" cy="2103.0" r="5.35" fill="#55a0fa" stroke="#2a2a2a" stroke-width="1.15"/>
<circle cx="1133.2" cy="2114.3" r="5.35" fill="#55a0fa" stroke="#2a2a2a" stroke-width="1.15"/>
<circle cx="1144.0" cy="2086.2" r="5.35" fill="#55a0fa" stroke="#2a2a2a" stroke-width="1.15"/>
<circle cx="1154.8" cy="2103.0" r="5.35" fill="#55a0fa" stroke="#2a2a2a" stroke-width="1.15"/>
<circle cx="1165.6" cy="2108.7" r="5.35" fill="#55a0fa" stroke="#2a2a2a" stroke-width="1.15"/>
<circle cx="1176.5" cy="2131.2" r="5.35" fill="#55a0fa" stroke="#2a2a2a" stroke-width="1.15"/>
<circle cx="1187.3" cy="2080.5" r="5.35" fill="#55a0fa" stroke="#2a2a2a" stroke-width="1.15"/>
<circle cx="1198.1" cy="2097.4" r="5.35" fill="#55a0fa" stroke="#2a2a2a" stroke-width="1.15"/>
<circle cx="1208.9" cy="2080.5" r="5.35" fill="#55a0fa" stroke="#2a2a2a" stroke-width="1.15"/>
<circle cx="1219.8" cy="2086.2" r="5.35" fill="#55a0fa" stroke="#2a2a2a" stroke-width="1.15"/>
<circle cx="1230.6" cy="2097.4" r="5.35" fill="#55a0fa" stroke="#2a2a2a" stroke-width="1.15"/>
<circle cx="1241.4" cy="2103.0" r="5.35" fill="#55a0fa" stroke="#2a2a2a" stroke-width="1.15"/>
<circle cx="1252.2" cy="2114.3" r="5.35" fill="#55a0fa" stroke="#2a2a2a" stroke-width="1.15"/>
<circle cx="1263.1" cy="2091.8" r="5.35" fill="#55a0fa" stroke="#2a2a2a" stroke-width="1.15"/>
<circle cx="1273.9" cy="2074.9" r="5.35" fill="#55a0fa" stroke="#2a2a2a" stroke-width="1.15"/>
<circle cx="1284.7" cy="2103.0" r="5.35" fill="#55a0fa" stroke="#2a2a2a" stroke-width="1.15"/>
<circle cx="1295.5" cy="2114.3" r="5.35" fill="#55a0fa" stroke="#2a2a2a" stroke-width="1.15"/>
<circle cx="1306.4" cy="2103.0" r="5.35" fill="#55a0fa" stroke="#2a2a2a" stroke-width="1.15"/>
<circle cx="1317.2" cy="2108.7" r="5.35" fill="#55a0fa" stroke="#2a2a2a" stroke-width="1.15"/>
<circle cx="1328.0" cy="2108.7" r="5.35" fill="#55a0fa" stroke="#2a2a2a" stroke-width="1.15"/>
<circle cx="1338.8" cy="2114.3" r="5.35" fill="#55a0fa" stroke="#2a2a2a" stroke-width="1.15"/>
<circle cx="1349.7" cy="2097.4" r="5.35" fill="#55a0fa" stroke="#2a2a2a" stroke-width="1.15"/>
<circle cx="1360.5" cy="2108.7" r="5.35" fill="#55a0fa" stroke="#2a2a2a" stroke-width="1.15"/>
<circle cx="1371.3" cy="2103.0" r="5.35" fill="#55a0fa" stroke="#2a2a2a" stroke-width="1.15"/>
<circle cx="1382.1" cy="2108.7" r="5.35" fill="#55a0fa" stroke="#2a2a2a" stroke-width="1.15"/>
<circle cx="1393.0" cy="2125.6" r="5.35" fill="#55a0fa" stroke="#2a2a2a" stroke-width="1.15"/>
<circle cx="1403.8" cy="2103.0" r="5.35" fill="#55a0fa" stroke="#2a2a2a" stroke-width="1.15"/>
<circle cx="1414.6" cy="2119.9" r="5.35" fill="#55a0fa" stroke="#2a2a2a" stroke-width="1.15"/>
<circle cx="1425.4" cy="2136.8" r="5.35" fill="#55a0fa" stroke="#2a2a2a" stroke-width="1.15"/>
<circle cx="1436.3" cy="2142.5" r="5.35" fill="#55a0fa" stroke="#2a2a2a" stroke-width="1.15"/>
<circle cx="1447.1" cy="2108.7" r="5.35" fill="#55a0fa" stroke="#2a2a2a" stroke-width="1.15"/>
<circle cx="1457.9" cy="2142.5" r="5.35" fill="#55a0fa" stroke="#2a2a2a" stroke-width="1.15"/>
<circle cx="1468.8" cy="2097.4" r="5.35" fill="#55a0fa" stroke="#2a2a2a" stroke-width="1.15"/>
<circle cx="1479.6" cy="2125.6" r="5.35" fill="#55a0fa" stroke="#2a2a2a" stroke-width="1.15"/>
<circle cx="1490.4" cy="2153.7" r="5.35" fill="#55a0fa" stroke="#2a2a2a" stroke-width="1.15"/>
<circle cx="1501.2" cy="2114.3" r="5.35" fill="#55a0fa" stroke="#2a2a2a" stroke-width="1.15"/>
<circle cx="1512.1" cy="2142.5" r="5.35" fill="#55a0fa" stroke="#2a2a2a" stroke-width="1.15"/>
<circle cx="1522.9" cy="2131.2" r="5.35" fill="#55a0fa" stroke="#2a2a2a" stroke-width="1.15"/>
<circle cx="1057.4" cy="2097.4" r="5.35" fill="#92bef5" stroke="#2a2a2a" stroke-width="1.15"/>
<circle cx="1068.2" cy="2080.5" r="5.35" fill="#92bef5" stroke="#2a2a2a" stroke-width="1.15"/>
<circle cx="1071.4" cy="2035.5" r="5.35" fill="#92bef5" stroke="#2a2a2a" stroke-width="1.15"/>
<circle cx="1079.0" cy="2091.8" r="5.35" fill="#92bef5" stroke="#2a2a2a" stroke-width="1.15"/>
<circle cx="1089.9" cy="2097.4" r="5.35" fill="#92bef5" stroke="#2a2a2a" stroke-width="1.15"/>
<circle cx="1100.7" cy="2058.0" r="5.35" fill="#92bef5" stroke="#2a2a2a" stroke-width="1.15"/>
<circle cx="1111.5" cy="2114.3" r="5.35" fill="#92bef5" stroke="#2a2a2a" stroke-width="1.15"/>
<circle cx="1122.3" cy="2114.3" r="5.35" fill="#92bef5" stroke="#2a2a2a" stroke-width="1.15"/>
<circle cx="1133.2" cy="2080.5" r="5.35" fill="#92bef5" stroke="#2a2a2a" stroke-width="1.15"/>
<circle cx="1144.0" cy="2058.0" r="5.35" fill="#92bef5" stroke="#2a2a2a" stroke-width="1.15"/>
<circle cx="1154.8" cy="2074.9" r="5.35" fill="#92bef5" stroke="#2a2a2a" stroke-width="1.15"/>
<circle cx="1165.6" cy="2058.0" r="5.35" fill="#92bef5" stroke="#2a2a2a" stroke-width="1.15"/>
<circle cx="1176.5" cy="2114.3" r="5.35" fill="#92bef5" stroke="#2a2a2a" stroke-width="1.15"/>
<circle cx="1187.3" cy="2086.2" r="5.35" fill="#92bef5" stroke="#2a2a2a" stroke-width="1.15"/>
<circle cx="1198.1" cy="2069.3" r="5.35" fill="#92bef5" stroke="#2a2a2a" stroke-width="1.15"/>
<circle cx="1208.9" cy="2091.8" r="5.35" fill="#92bef5" stroke="#2a2a2a" stroke-width="1.15"/>
<circle cx="1219.8" cy="2052.4" r="5.35" fill="#92bef5" stroke="#2a2a2a" stroke-width="1.15"/>
<circle cx="1230.6" cy="2086.2" r="5.35" fill="#92bef5" stroke="#2a2a2a" stroke-width="1.15"/>
<circle cx="1241.4" cy="2080.5" r="5.35" fill="#92bef5" stroke="#2a2a2a" stroke-width="1.15"/>
<circle cx="1252.2" cy="2063.6" r="5.35" fill="#92bef5" stroke="#2a2a2a" stroke-width="1.15"/>
<circle cx="1263.1" cy="2086.2" r="5.35" fill="#92bef5" stroke="#2a2a2a" stroke-width="1.15"/>
<circle cx="1273.9" cy="2086.2" r="5.35" fill="#92bef5" stroke="#2a2a2a" stroke-width="1.15"/>
<circle cx="1284.7" cy="2114.3" r="5.35" fill="#92bef5" stroke="#2a2a2a" stroke-width="1.15"/>
<circle cx="1295.5" cy="2069.3" r="5.35" fill="#92bef5" stroke="#2a2a2a" stroke-width="1.15"/>
<circle cx="1306.4" cy="2069.3" r="5.35" fill="#92bef5" stroke="#2a2a2a" stroke-width="1.15"/>
<circle cx="1317.2" cy="2046.7" r="5.35" fill="#92bef5" stroke="#2a2a2a" stroke-width="1.15"/>
<circle cx="1328.0" cy="2069.3" r="5.35" fill="#92bef5" stroke="#2a2a2a" stroke-width="1.15"/>
<circle cx="1338.8" cy="2080.5" r="5.35" fill="#92bef5" stroke="#2a2a2a" stroke-width="1.15"/>
<circle cx="1349.7" cy="2074.9" r="5.35" fill="#92bef5" stroke="#2a2a2a" stroke-width="1.15"/>
<circle cx="1360.5" cy="2086.2" r="5.35" fill="#92bef5" stroke="#2a2a2a" stroke-width="1.15"/>
<circle cx="1371.3" cy="2046.7" r="5.35" fill="#92bef5" stroke="#2a2a2a" stroke-width="1.15"/>
<circle cx="1382.1" cy="2052.4" r="5.35" fill="#92bef5" stroke="#2a2a2a" stroke-width="1.15"/>
<circle cx="1393.0" cy="2074.9" r="5.35" fill="#92bef5" stroke="#2a2a2a" stroke-width="1.15"/>
<circle cx="1403.8" cy="2058.0" r="5.35" fill="#92bef5" stroke="#2a2a2a" stroke-width="1.15"/>
<circle cx="1414.6" cy="2086.2" r="5.35" fill="#92bef5" stroke="#2a2a2a" stroke-width="1.15"/>
<circle cx="1425.4" cy="2091.8" r="5.35" fill="#92bef5" stroke="#2a2a2a" stroke-width="1.15"/>
<circle cx="1436.3" cy="2052.4" r="5.35" fill="#92bef5" stroke="#2a2a2a" stroke-width="1.15"/>
<circle cx="1447.1" cy="2097.4" r="5.35" fill="#92bef5" stroke="#2a2a2a" stroke-width="1.15"/>
<circle cx="1457.9" cy="2080.5" r="5.35" fill="#92bef5" stroke="#2a2a2a" stroke-width="1.15"/>
<circle cx="1468.8" cy="2035.5" r="5.35" fill="#92bef5" stroke="#2a2a2a" stroke-width="1.15"/>
<circle cx="1479.6" cy="2052.4" r="5.35" fill="#92bef5" stroke="#2a2a2a" stroke-width="1.15"/>
<circle cx="1490.4" cy="2097.4" r="5.35" fill="#92bef5" stroke="#2a2a2a" stroke-width="1.15"/>
<circle cx="1501.2" cy="2097.4" r="5.35" fill="#92bef5" stroke="#2a2a2a" stroke-width="1.15"/>
<circle cx="1512.1" cy="2041.1" r="5.35" fill="#92bef5" stroke="#2a2a2a" stroke-width="1.15"/>
<circle cx="1522.9" cy="2058.0" r="5.35" fill="#92bef5" stroke="#2a2a2a" stroke-width="1.15"/>
<circle cx="1057.4" cy="2091.8" r="5.35" fill="#cde0f8" stroke="#2a2a2a" stroke-width="1.15"/>
<circle cx="1068.2" cy="2063.6" r="5.35" fill="#cde0f8" stroke="#2a2a2a" stroke-width="1.15"/>
<circle cx="1071.4" cy="2052.4" r="5.35" fill="#cde0f8" stroke="#2a2a2a" stroke-width="1.15"/>
<circle cx="1079.0" cy="2080.5" r="5.35" fill="#cde0f8" stroke="#2a2a2a" stroke-width="1.15"/>
<circle cx="1089.9" cy="2103.0" r="5.35" fill="#cde0f8" stroke="#2a2a2a" stroke-width="1.15"/>
<circle cx="1100.7" cy="2074.9" r="5.35" fill="#cde0f8" stroke="#2a2a2a" stroke-width="1.15"/>
<circle cx="1111.5" cy="2074.9" r="5.35" fill="#cde0f8" stroke="#2a2a2a" stroke-width="1.15"/>
<circle cx="1122.3" cy="2080.5" r="5.35" fill="#cde0f8" stroke="#2a2a2a" stroke-width="1.15"/>
<circle cx="1133.2" cy="2097.4" r="5.35" fill="#cde0f8" stroke="#2a2a2a" stroke-width="1.15"/>
<circle cx="1144.0" cy="2091.8" r="5.35" fill="#cde0f8" stroke="#2a2a2a" stroke-width="1.15"/>
<circle cx="1154.8" cy="2091.8" r="5.35" fill="#cde0f8" stroke="#2a2a2a" stroke-width="1.15"/>
<circle cx="1165.6" cy="2103.0" r="5.35" fill="#cde0f8" stroke="#2a2a2a" stroke-width="1.15"/>
<circle cx="1176.5" cy="2074.9" r="5.35" fill="#cde0f8" stroke="#2a2a2a" stroke-width="1.15"/>
<circle cx="1187.3" cy="2097.4" r="5.35" fill="#cde0f8" stroke="#2a2a2a" stroke-width="1.15"/>
<circle cx="1198.1" cy="2114.3" r="5.35" fill="#cde0f8" stroke="#2a2a2a" stroke-width="1.15"/>
<circle cx="1208.9" cy="2103.0" r="5.35" fill="#cde0f8" stroke="#2a2a2a" stroke-width="1.15"/>
<circle cx="1219.8" cy="2069.3" r="5.35" fill="#cde0f8" stroke="#2a2a2a" stroke-width="1.15"/>
<circle cx="1230.6" cy="2103.0" r="5.35" fill="#cde0f8" stroke="#2a2a2a" stroke-width="1.15"/>
<circle cx="1241.4" cy="2097.4" r="5.35" fill="#cde0f8" stroke="#2a2a2a" stroke-width="1.15"/>
<circle cx="1252.2" cy="2097.4" r="5.35" fill="#cde0f8" stroke="#2a2a2a" stroke-width="1.15"/>
<circle cx="1263.1" cy="2103.0" r="5.35" fill="#cde0f8" stroke="#2a2a2a" stroke-width="1.15"/>
<circle cx="1273.9" cy="2125.6" r="5.35" fill="#cde0f8" stroke="#2a2a2a" stroke-width="1.15"/>
<circle cx="1284.7" cy="2086.2" r="5.35" fill="#cde0f8" stroke="#2a2a2a" stroke-width="1.15"/>
<circle cx="1295.5" cy="2086.2" r="5.35" fill="#cde0f8" stroke="#2a2a2a" stroke-width="1.15"/>
<circle cx="1306.4" cy="2114.3" r="5.35" fill="#cde0f8" stroke="#2a2a2a" stroke-width="1.15"/>
<circle cx="1317.2" cy="2080.5" r="5.35" fill="#cde0f8" stroke="#2a2a2a" stroke-width="1.15"/>
<circle cx="1328.0" cy="2080.5" r="5.35" fill="#cde0f8" stroke="#2a2a2a" stroke-width="1.15"/>
<circle cx="1338.8" cy="2108.7" r="5.35" fill="#cde0f8" stroke="#2a2a2a" stroke-width="1.15"/>
<circle cx="1349.7" cy="2103.0" r="5.35" fill="#cde0f8" stroke="#2a2a2a" stroke-width="1.15"/>
<circle cx="1360.5" cy="2097.4" r="5.35" fill="#cde0f8" stroke="#2a2a2a" stroke-width="1.15"/>
<circle cx="1371.3" cy="2074.9" r="5.35" fill="#cde0f8" stroke="#2a2a2a" stroke-width="1.15"/>
<circle cx="1382.1" cy="2103.0" r="5.35" fill="#cde0f8" stroke="#2a2a2a" stroke-width="1.15"/>
<circle cx="1393.0" cy="2108.7" r="5.35" fill="#cde0f8" stroke="#2a2a2a" stroke-width="1.15"/>
<circle cx="1403.8" cy="2086.2" r="5.35" fill="#cde0f8" stroke="#2a2a2a" stroke-width="1.15"/>
<circle cx="1414.6" cy="2103.0" r="5.35" fill="#cde0f8" stroke="#2a2a2a" stroke-width="1.15"/>
<circle cx="1425.4" cy="2097.4" r="5.35" fill="#cde0f8" stroke="#2a2a2a" stroke-width="1.15"/>
<circle cx="1436.3" cy="2091.8" r="5.35" fill="#cde0f8" stroke="#2a2a2a" stroke-width="1.15"/>
<circle cx="1447.1" cy="2103.0" r="5.35" fill="#cde0f8" stroke="#2a2a2a" stroke-width="1.15"/>
<circle cx="1457.9" cy="2074.9" r="5.35" fill="#cde0f8" stroke="#2a2a2a" stroke-width="1.15"/>
<circle cx="1468.8" cy="2058.0" r="5.35" fill="#cde0f8" stroke="#2a2a2a" stroke-width="1.15"/>
<circle cx="1479.6" cy="2097.4" r="5.35" fill="#cde0f8" stroke="#2a2a2a" stroke-width="1.15"/>
<circle cx="1490.4" cy="2086.2" r="5.35" fill="#cde0f8" stroke="#2a2a2a" stroke-width="1.15"/>
<circle cx="1501.2" cy="2080.5" r="5.35" fill="#cde0f8" stroke="#2a2a2a" stroke-width="1.15"/>
<circle cx="1512.1" cy="2097.4" r="5.35" fill="#cde0f8" stroke="#2a2a2a" stroke-width="1.15"/>
<circle cx="1522.9" cy="2097.4" r="5.35" fill="#cde0f8" stroke="#2a2a2a" stroke-width="1.15"/>
<text x="1279.5" y="2306.0" font-size="31.5" text-anchor="middle" fill="#111" >Week</text>
<text transform="translate(982.9,2053.0) rotate(-90)" font-size="31.5" text-anchor="middle" fill="#111">Body Temperature (°C)</text>
<text x="1569.8" y="1903.1" font-size="21.8" text-anchor="start" fill="#111" >Animal</text>
<line x1="1574.5" y1="1927.5" x2="1598.0" y2="1927.5" stroke="#333" stroke-width="1.1" />
<circle cx="1586.2" cy="1927.5" r="5.9" fill="#cde0f8" stroke="#222" stroke-width="1.1"/>
<text x="1611.1" y="1935.5" font-size="21.8" text-anchor="start" fill="#111" >#1</text>
<line x1="1574.5" y1="1961.5" x2="1598.0" y2="1961.5" stroke="#333" stroke-width="1.1" />
<circle cx="1586.2" cy="1961.5" r="5.9" fill="#92bef5" stroke="#222" stroke-width="1.1"/>
<text x="1611.1" y="1969.5" font-size="21.8" text-anchor="start" fill="#111" >#2</text>
<line x1="1574.5" y1="1995.5" x2="1598.0" y2="1995.5" stroke="#333" stroke-width="1.1" />
<circle cx="1586.2" cy="1995.5" r="5.9" fill="#55a0fa" stroke="#222" stroke-width="1.1"/>
<text x="1611.1" y="2003.5" font-size="21.8" text-anchor="start" fill="#111" >#3</text>
<line x1="1574.5" y1="2029.5" x2="1598.0" y2="2029.5" stroke="#333" stroke-width="1.1" />
<circle cx="1586.2" cy="2029.5" r="5.9" fill="#129db6" stroke="#222" stroke-width="1.1"/>
<text x="1611.1" y="2037.5" font-size="21.8" text-anchor="start" fill="#111" >#4</text>
<line x1="1574.5" y1="2063.5" x2="1598.0" y2="2063.5" stroke="#333" stroke-width="1.1" />
<circle cx="1586.2" cy="2063.5" r="5.9" fill="#0a809b" stroke="#222" stroke-width="1.1"/>
<text x="1611.1" y="2071.5" font-size="21.8" text-anchor="start" fill="#111" >#5</text>
</svg></body></html>
